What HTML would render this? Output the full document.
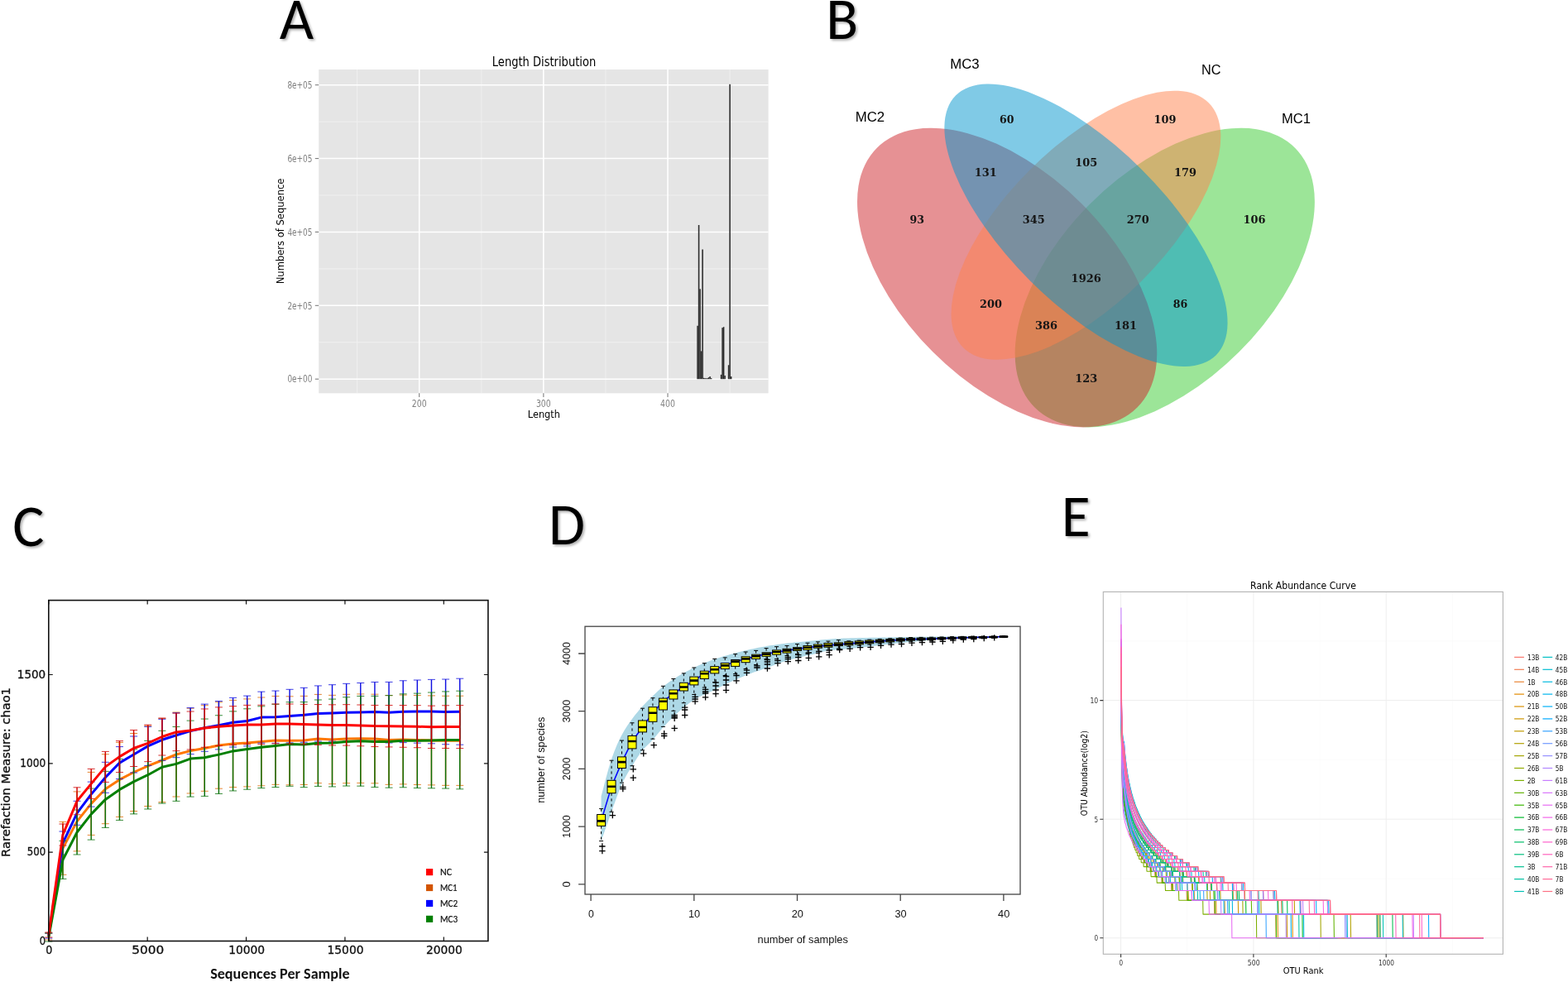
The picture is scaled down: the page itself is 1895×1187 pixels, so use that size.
<!DOCTYPE html><html><head><meta charset="utf-8"><title>Figure</title><style>html,body{margin:0;padding:0;background:#fff;width:1895px;height:1187px;overflow:hidden}svg{display:block}</style></head><body><svg width="1895" height="1187" viewBox="0 0 1895 1187"><defs><filter id="ds" x="-20%" y="-20%" width="150%" height="150%"><feGaussianBlur in="SourceAlpha" stdDeviation="1.4"/><feOffset dx="2.0" dy="2.4" result="o"/><feComponentTransfer><feFuncA type="linear" slope="0.32"/></feComponentTransfer><feMerge><feMergeNode/><feMergeNode in="SourceGraphic"/></feMerge></filter></defs><rect width="100%" height="100%" fill="#fff"/><text x="337.7" y="47" font-size="71.5" font-family="Carlito, 'Liberation Sans', sans-serif" textLength="41.37" lengthAdjust="spacingAndGlyphs" filter="url(#ds)">A</text>
<text x="998.2" y="46.8" font-size="71.5" font-family="Carlito, 'Liberation Sans', sans-serif" textLength="38.89" lengthAdjust="spacingAndGlyphs" filter="url(#ds)">B</text>
<text x="15.3" y="660" font-size="71.5" font-family="Carlito, 'Liberation Sans', sans-serif" textLength="38.12" lengthAdjust="spacingAndGlyphs" filter="url(#ds)">C</text>
<text x="663.1" y="658.3" font-size="71.5" font-family="Carlito, 'Liberation Sans', sans-serif" textLength="43.99" lengthAdjust="spacingAndGlyphs" filter="url(#ds)">D</text>
<text x="1282.8" y="648" font-size="71.5" font-family="Carlito, 'Liberation Sans', sans-serif" textLength="34.91" lengthAdjust="spacingAndGlyphs" filter="url(#ds)">E</text>
<rect x="385.2" y="84" width="543.4" height="391.3" fill="#E5E5E5"/>
<line x1="431.62" y1="84" x2="431.62" y2="475.3" stroke="#F2F2F2" stroke-width="0.8"/>
<line x1="581.77" y1="84" x2="581.77" y2="475.3" stroke="#F2F2F2" stroke-width="0.8"/>
<line x1="731.92" y1="84" x2="731.92" y2="475.3" stroke="#F2F2F2" stroke-width="0.8"/>
<line x1="882.08" y1="84" x2="882.08" y2="475.3" stroke="#F2F2F2" stroke-width="0.8"/>
<line x1="385.2" y1="413.76" x2="928.6" y2="413.76" stroke="#F2F2F2" stroke-width="0.8"/>
<line x1="385.2" y1="324.89" x2="928.6" y2="324.89" stroke="#F2F2F2" stroke-width="0.8"/>
<line x1="385.2" y1="236.01" x2="928.6" y2="236.01" stroke="#F2F2F2" stroke-width="0.8"/>
<line x1="385.2" y1="147.14" x2="928.6" y2="147.14" stroke="#F2F2F2" stroke-width="0.8"/>
<line x1="506.7" y1="84" x2="506.7" y2="475.3" stroke="#FFFFFF" stroke-width="1.6"/>
<line x1="656.85" y1="84" x2="656.85" y2="475.3" stroke="#FFFFFF" stroke-width="1.6"/>
<line x1="807" y1="84" x2="807" y2="475.3" stroke="#FFFFFF" stroke-width="1.6"/>
<line x1="385.2" y1="458.2" x2="928.6" y2="458.2" stroke="#FFFFFF" stroke-width="1.6"/>
<line x1="385.2" y1="369.32" x2="928.6" y2="369.32" stroke="#FFFFFF" stroke-width="1.6"/>
<line x1="385.2" y1="280.45" x2="928.6" y2="280.45" stroke="#FFFFFF" stroke-width="1.6"/>
<line x1="385.2" y1="191.57" x2="928.6" y2="191.57" stroke="#FFFFFF" stroke-width="1.6"/>
<line x1="385.2" y1="102.7" x2="928.6" y2="102.7" stroke="#FFFFFF" stroke-width="1.6"/>
<rect x="842.29" y="393.77" width="1.55" height="64.43" fill="#2A2A2A"/>
<rect x="843.79" y="272.01" width="1.55" height="186.19" fill="#2A2A2A"/>
<rect x="845.29" y="349.33" width="1.55" height="108.87" fill="#2A2A2A"/>
<rect x="846.79" y="424.43" width="1.55" height="33.77" fill="#2A2A2A"/>
<rect x="848.29" y="301.51" width="1.55" height="156.69" fill="#2A2A2A"/>
<rect x="849.79" y="456.87" width="1.55" height="1.33" fill="#2A2A2A"/>
<rect x="851.29" y="457.09" width="1.55" height="1.11" fill="#2A2A2A"/>
<rect x="852.8" y="457.31" width="1.55" height="0.89" fill="#2A2A2A"/>
<rect x="854.3" y="457.09" width="1.55" height="1.11" fill="#2A2A2A"/>
<rect x="855.8" y="456.2" width="1.55" height="2" fill="#2A2A2A"/>
<rect x="857.3" y="455.09" width="1.55" height="3.11" fill="#2A2A2A"/>
<rect x="858.8" y="457.09" width="1.55" height="1.11" fill="#2A2A2A"/>
<rect x="870.81" y="452.87" width="1.55" height="5.33" fill="#2A2A2A"/>
<rect x="872.32" y="396.12" width="1.55" height="62.08" fill="#2A2A2A"/>
<rect x="873.82" y="395.19" width="1.55" height="63.01" fill="#2A2A2A"/>
<rect x="875.32" y="453.98" width="1.55" height="4.22" fill="#2A2A2A"/>
<rect x="879.82" y="441.31" width="1.55" height="16.89" fill="#2A2A2A"/>
<rect x="881.32" y="101.81" width="1.55" height="356.39" fill="#2A2A2A"/>
<rect x="882.83" y="455.09" width="1.55" height="3.11" fill="#2A2A2A"/>
<line x1="380.8" y1="458.2" x2="385.2" y2="458.2" stroke="#7F7F7F" stroke-width="1.1"/>
<line x1="380.8" y1="369.32" x2="385.2" y2="369.32" stroke="#7F7F7F" stroke-width="1.1"/>
<line x1="380.8" y1="280.45" x2="385.2" y2="280.45" stroke="#7F7F7F" stroke-width="1.1"/>
<line x1="380.8" y1="191.57" x2="385.2" y2="191.57" stroke="#7F7F7F" stroke-width="1.1"/>
<line x1="380.8" y1="102.7" x2="385.2" y2="102.7" stroke="#7F7F7F" stroke-width="1.1"/>
<line x1="506.7" y1="475.3" x2="506.7" y2="479.9" stroke="#7F7F7F" stroke-width="1.1"/>
<line x1="656.85" y1="475.3" x2="656.85" y2="479.9" stroke="#7F7F7F" stroke-width="1.1"/>
<line x1="807" y1="475.3" x2="807" y2="479.9" stroke="#7F7F7F" stroke-width="1.1"/>
<text x="377.4" y="462.4" font-size="11.6" font-family="'DejaVu Sans', 'Liberation Sans', sans-serif" text-anchor="end" fill="#7F7F7F" textLength="30" lengthAdjust="spacingAndGlyphs">0e+00</text>
<text x="377.4" y="373.52" font-size="11.6" font-family="'DejaVu Sans', 'Liberation Sans', sans-serif" text-anchor="end" fill="#7F7F7F" textLength="30" lengthAdjust="spacingAndGlyphs">2e+05</text>
<text x="377.4" y="284.65" font-size="11.6" font-family="'DejaVu Sans', 'Liberation Sans', sans-serif" text-anchor="end" fill="#7F7F7F" textLength="30" lengthAdjust="spacingAndGlyphs">4e+05</text>
<text x="377.4" y="195.77" font-size="11.6" font-family="'DejaVu Sans', 'Liberation Sans', sans-serif" text-anchor="end" fill="#7F7F7F" textLength="30" lengthAdjust="spacingAndGlyphs">6e+05</text>
<text x="377.4" y="106.9" font-size="11.6" font-family="'DejaVu Sans', 'Liberation Sans', sans-serif" text-anchor="end" fill="#7F7F7F" textLength="30" lengthAdjust="spacingAndGlyphs">8e+05</text>
<text x="506.7" y="491.8" font-size="11.6" font-family="'DejaVu Sans', 'Liberation Sans', sans-serif" text-anchor="middle" fill="#7F7F7F" textLength="17.8" lengthAdjust="spacingAndGlyphs">200</text>
<text x="656.85" y="491.8" font-size="11.6" font-family="'DejaVu Sans', 'Liberation Sans', sans-serif" text-anchor="middle" fill="#7F7F7F" textLength="17.8" lengthAdjust="spacingAndGlyphs">300</text>
<text x="807" y="491.8" font-size="11.6" font-family="'DejaVu Sans', 'Liberation Sans', sans-serif" text-anchor="middle" fill="#7F7F7F" textLength="17.8" lengthAdjust="spacingAndGlyphs">400</text>
<text x="657.5" y="80.1" font-size="16" font-family="'DejaVu Sans', 'Liberation Sans', sans-serif" text-anchor="middle" textLength="125.4" lengthAdjust="spacingAndGlyphs">Length Distribution</text>
<text x="657.4" y="504.8" font-size="13" font-family="'DejaVu Sans', 'Liberation Sans', sans-serif" text-anchor="middle" textLength="39.1" lengthAdjust="spacingAndGlyphs">Length</text>
<text x="342.8" y="279.4" font-size="13" font-family="'DejaVu Sans', 'Liberation Sans', sans-serif" text-anchor="middle" textLength="127.7" lengthAdjust="spacingAndGlyphs" transform="rotate(-90 342.8 279.4)">Numbers of Sequence</text>
<g transform="matrix(635.4 0 0 -634.2 994.75 633.7)">
<ellipse cx="0" cy="0" rx="0.35" ry="0.2" transform="translate(0.65 0.47) rotate(45)" fill="#39CB31" fill-opacity="0.5"/>
<ellipse cx="0" cy="0" rx="0.35" ry="0.2" transform="translate(0.35 0.47) rotate(135)" fill="#CD2329" fill-opacity="0.5"/>
<ellipse cx="0" cy="0" rx="0.33" ry="0.15" transform="translate(0.5 0.57) rotate(45)" fill="#FF814B" fill-opacity="0.5"/>
<ellipse cx="0" cy="0" rx="0.35" ry="0.15" transform="translate(0.5 0.57) rotate(135)" fill="#0195CD" fill-opacity="0.5"/>
</g>
<text x="1051.4" y="147.2" font-size="17" font-family="'Liberation Sans', sans-serif" text-anchor="middle" textLength="35.4" lengthAdjust="spacingAndGlyphs">MC2</text>
<text x="1165.9" y="83.2" font-size="17" font-family="'Liberation Sans', sans-serif" text-anchor="middle" textLength="35.4" lengthAdjust="spacingAndGlyphs">MC3</text>
<text x="1463.7" y="89.9" font-size="17" font-family="'Liberation Sans', sans-serif" text-anchor="middle" textLength="23.5" lengthAdjust="spacingAndGlyphs">NC</text>
<text x="1566.5" y="148.8" font-size="17" font-family="'Liberation Sans', sans-serif" text-anchor="middle" textLength="35" lengthAdjust="spacingAndGlyphs">MC1</text>
<text x="1216.7" y="148.7" font-size="12.9" font-family="'DejaVu Serif', 'Liberation Serif', serif" text-anchor="middle" fill="#151515" font-weight="bold" textLength="17.5" lengthAdjust="spacingAndGlyphs">60</text>
<text x="1407.9" y="148.7" font-size="12.9" font-family="'DejaVu Serif', 'Liberation Serif', serif" text-anchor="middle" fill="#151515" font-weight="bold" textLength="27" lengthAdjust="spacingAndGlyphs">109</text>
<text x="1191.3" y="212.6" font-size="12.9" font-family="'DejaVu Serif', 'Liberation Serif', serif" text-anchor="middle" fill="#151515" font-weight="bold" textLength="27" lengthAdjust="spacingAndGlyphs">131</text>
<text x="1312.7" y="200.5" font-size="12.9" font-family="'DejaVu Serif', 'Liberation Serif', serif" text-anchor="middle" fill="#151515" font-weight="bold" textLength="27" lengthAdjust="spacingAndGlyphs">105</text>
<text x="1432.4" y="212.6" font-size="12.9" font-family="'DejaVu Serif', 'Liberation Serif', serif" text-anchor="middle" fill="#151515" font-weight="bold" textLength="27" lengthAdjust="spacingAndGlyphs">179</text>
<text x="1108.2" y="270.2" font-size="12.9" font-family="'DejaVu Serif', 'Liberation Serif', serif" text-anchor="middle" fill="#151515" font-weight="bold" textLength="17.5" lengthAdjust="spacingAndGlyphs">93</text>
<text x="1249.3" y="270.2" font-size="12.9" font-family="'DejaVu Serif', 'Liberation Serif', serif" text-anchor="middle" fill="#151515" font-weight="bold" textLength="27" lengthAdjust="spacingAndGlyphs">345</text>
<text x="1375.3" y="270.2" font-size="12.9" font-family="'DejaVu Serif', 'Liberation Serif', serif" text-anchor="middle" fill="#151515" font-weight="bold" textLength="27" lengthAdjust="spacingAndGlyphs">270</text>
<text x="1516" y="270.2" font-size="12.9" font-family="'DejaVu Serif', 'Liberation Serif', serif" text-anchor="middle" fill="#151515" font-weight="bold" textLength="27" lengthAdjust="spacingAndGlyphs">106</text>
<text x="1312.7" y="340.8" font-size="12.9" font-family="'DejaVu Serif', 'Liberation Serif', serif" text-anchor="middle" fill="#151515" font-weight="bold" textLength="36.2" lengthAdjust="spacingAndGlyphs">1926</text>
<text x="1197.5" y="372" font-size="12.9" font-family="'DejaVu Serif', 'Liberation Serif', serif" text-anchor="middle" fill="#151515" font-weight="bold" textLength="27" lengthAdjust="spacingAndGlyphs">200</text>
<text x="1426.6" y="372" font-size="12.9" font-family="'DejaVu Serif', 'Liberation Serif', serif" text-anchor="middle" fill="#151515" font-weight="bold" textLength="17.5" lengthAdjust="spacingAndGlyphs">86</text>
<text x="1264.5" y="397.9" font-size="12.9" font-family="'DejaVu Serif', 'Liberation Serif', serif" text-anchor="middle" fill="#151515" font-weight="bold" textLength="27" lengthAdjust="spacingAndGlyphs">386</text>
<text x="1360.5" y="397.9" font-size="12.9" font-family="'DejaVu Serif', 'Liberation Serif', serif" text-anchor="middle" fill="#151515" font-weight="bold" textLength="27" lengthAdjust="spacingAndGlyphs">181</text>
<text x="1312.7" y="461.8" font-size="12.9" font-family="'DejaVu Serif', 'Liberation Serif', serif" text-anchor="middle" fill="#151515" font-weight="bold" textLength="27" lengthAdjust="spacingAndGlyphs">123</text>
<polyline points="58.8,1132 75.94,1025.3 93.07,992.9 110.2,971.4 127.34,953.7 144.48,942.4 161.61,933.5 178.75,925.9 195.88,919 213.01,912 230.15,907.6 247.29,904.5 264.42,901 281.56,899 298.69,897.9 315.83,896.4 332.96,894.9 350.1,895.3 367.23,894.9 384.37,893 401.5,894 418.64,893 435.77,892.7 452.91,893 470.04,894.5 487.18,894 504.31,894.5 521.45,894.9 538.58,895.3 555.72,895.3" fill="none" stroke="#FF7700" stroke-width="3" stroke-linejoin="round"/>
<path d="M58.8 1128V1136M75.94 993.3V1057.3M93.07 956.9V1028.9M110.2 933.4V1009.4M127.34 911.7V995.7M144.48 897.4V987.4M161.61 886.5V980.5M178.75 877.3V974.5M195.88 868.4V969.6M213.01 861V963M230.15 856.2V959M247.29 852.7V956.3M264.42 848.8V953.2M281.56 846.4V951.6M298.69 844.9V950.9M315.83 843V949.8M332.96 841.45V948.35M350.1 841.8V948.8M367.23 841.35V948.45M384.37 839.4V946.6M401.5 840.35V947.65M418.64 839.3V946.7M435.77 838.95V946.45M452.91 839.2V946.8M470.04 840.65V948.35M487.18 840.1V947.9M504.31 840.55V948.45M521.45 840.9V948.9M538.58 841.25V949.35M555.72 841.2V949.4" stroke="#E06A00" stroke-width="1.45" fill="none"/>
<path d="M54.3 1128h9M54.3 1136h9M71.44 993.3h9M71.44 1057.3h9M88.57 956.9h9M88.57 1028.9h9M105.7 933.4h9M105.7 1009.4h9M122.84 911.7h9M122.84 995.7h9M139.98 897.4h9M139.98 987.4h9M157.11 886.5h9M157.11 980.5h9M174.25 877.3h9M174.25 974.5h9M191.38 868.4h9M191.38 969.6h9M208.51 861h9M208.51 963h9M225.65 856.2h9M225.65 959h9M242.79 852.7h9M242.79 956.3h9M259.92 848.8h9M259.92 953.2h9M277.06 846.4h9M277.06 951.6h9M294.19 844.9h9M294.19 950.9h9M311.33 843h9M311.33 949.8h9M328.46 841.45h9M328.46 948.35h9M345.6 841.8h9M345.6 948.8h9M362.73 841.35h9M362.73 948.45h9M379.87 839.4h9M379.87 946.6h9M397 840.35h9M397 947.65h9M414.14 839.3h9M414.14 946.7h9M431.27 838.95h9M431.27 946.45h9M448.41 839.2h9M448.41 946.8h9M465.54 840.65h9M465.54 948.35h9M482.68 840.1h9M482.68 947.9h9M499.81 840.55h9M499.81 948.45h9M516.95 840.9h9M516.95 948.9h9M534.08 841.25h9M534.08 949.35h9M551.22 841.2h9M551.22 949.4h9" stroke="#E06A00" stroke-width="1.0" stroke-opacity="0.8" fill="none"/>
<polyline points="58.8,1131 75.94,1019 93.07,982.8 110.2,960.1 127.34,939.8 144.48,922.1 161.61,912 178.75,901.9 195.88,894.3 213.01,888.7 230.15,883.6 247.29,879.7 264.42,876.7 281.56,873.2 298.69,871.5 315.83,867.1 332.96,866.7 350.1,865.6 367.23,864.3 384.37,862.5 401.5,861.9 418.64,861.2 435.77,861 452.91,860.6 470.04,861.2 487.18,860.2 504.31,860.1 521.45,860.1 538.58,860.4 555.72,860.2" fill="none" stroke="#0000FF" stroke-width="3" stroke-linejoin="round"/>
<path d="M58.8 1128V1134M75.94 1005V1033M93.07 968.3V997.3M110.2 945.1V975.1M127.34 921.3V958.3M144.48 902.6V941.6M161.61 890V934M178.75 878.4V925.4M195.88 869.3V919.3M213.01 861.7V915.7M230.15 855.6V911.6M247.29 851.1V908.3M264.42 847.5V905.9M281.56 843.4V903M298.69 841.1V901.9M315.83 836.1V898.1M332.96 835.06V898.34M350.1 833.31V897.89M367.23 831.37V897.23M384.37 828.93V896.07M401.5 827.69V896.11M418.64 826.34V896.06M435.77 825.5V896.5M452.91 824.46V896.74M470.04 824.41V897.99M487.18 822.77V897.63M504.31 822.03V898.17M521.45 821.39V898.81M538.58 821.04V899.76M555.72 820.2V900.2" stroke="#1010E0" stroke-width="1.45" fill="none"/>
<path d="M54.3 1128h9M54.3 1134h9M71.44 1005h9M71.44 1033h9M88.57 968.3h9M88.57 997.3h9M105.7 945.1h9M105.7 975.1h9M122.84 921.3h9M122.84 958.3h9M139.98 902.6h9M139.98 941.6h9M157.11 890h9M157.11 934h9M174.25 878.4h9M174.25 925.4h9M191.38 869.3h9M191.38 919.3h9M208.51 861.7h9M208.51 915.7h9M225.65 855.6h9M225.65 911.6h9M242.79 851.1h9M242.79 908.3h9M259.92 847.5h9M259.92 905.9h9M277.06 843.4h9M277.06 903h9M294.19 841.1h9M294.19 901.9h9M311.33 836.1h9M311.33 898.1h9M328.46 835.06h9M328.46 898.34h9M345.6 833.31h9M345.6 897.89h9M362.73 831.37h9M362.73 897.23h9M379.87 828.93h9M379.87 896.07h9M397 827.69h9M397 896.11h9M414.14 826.34h9M414.14 896.06h9M431.27 825.5h9M431.27 896.5h9M448.41 824.46h9M448.41 896.74h9M465.54 824.41h9M465.54 897.99h9M482.68 822.77h9M482.68 897.63h9M499.81 822.03h9M499.81 898.17h9M516.95 821.39h9M516.95 898.81h9M534.08 821.04h9M534.08 899.76h9M551.22 820.2h9M551.22 900.2h9" stroke="#1010E0" stroke-width="1.0" stroke-opacity="0.8" fill="none"/>
<polyline points="58.8,1133 75.94,1039.4 93.07,1006 110.2,984.1 127.34,966.4 144.48,954.4 161.61,944.9 178.75,936.7 195.88,927.2 213.01,923.4 230.15,917.1 247.29,915.7 264.42,912.1 281.56,907.9 298.69,905.5 315.83,903.2 332.96,901.4 350.1,899.5 367.23,900.1 384.37,898.2 401.5,898 418.64,896.4 435.77,895.8 452.91,896.4 470.04,896.4 487.18,895.3 504.31,895.3 521.45,894.9 538.58,894.5 555.72,894.5" fill="none" stroke="#008000" stroke-width="3" stroke-linejoin="round"/>
<path d="M58.8 1128V1138M75.94 1016.4V1062.4M93.07 979V1033M110.2 953.1V1015.1M127.34 932.4V1000.4M144.48 917.4V991.4M161.61 905.9V983.9M178.75 895.4V978M195.88 883.3V971.1M213.01 878.45V968.35M230.15 871.1V963.1M247.29 869.02V962.38M264.42 864.74V959.46M281.56 859.86V955.94M298.69 856.78V954.22M315.83 853.8V952.6M332.96 851.29V951.51M350.1 848.69V950.31M367.23 848.58V951.62M384.37 845.97V950.43M401.5 845.06V950.94M418.64 842.76V950.04M435.77 841.45V950.15M452.91 841.34V951.46M470.04 840.64V952.16M487.18 838.83V951.77M504.31 838.12V952.48M521.45 837.01V952.79M538.58 835.91V953.09M555.72 835.2V953.8" stroke="#0A700A" stroke-width="1.45" fill="none"/>
<path d="M54.3 1128h9M54.3 1138h9M71.44 1016.4h9M71.44 1062.4h9M88.57 979h9M88.57 1033h9M105.7 953.1h9M105.7 1015.1h9M122.84 932.4h9M122.84 1000.4h9M139.98 917.4h9M139.98 991.4h9M157.11 905.9h9M157.11 983.9h9M174.25 895.4h9M174.25 978h9M191.38 883.3h9M191.38 971.1h9M208.51 878.45h9M208.51 968.35h9M225.65 871.1h9M225.65 963.1h9M242.79 869.02h9M242.79 962.38h9M259.92 864.74h9M259.92 959.46h9M277.06 859.86h9M277.06 955.94h9M294.19 856.78h9M294.19 954.22h9M311.33 853.8h9M311.33 952.6h9M328.46 851.29h9M328.46 951.51h9M345.6 848.69h9M345.6 950.31h9M362.73 848.58h9M362.73 951.62h9M379.87 845.97h9M379.87 950.43h9M397 845.06h9M397 950.94h9M414.14 842.76h9M414.14 950.04h9M431.27 841.45h9M431.27 950.15h9M448.41 841.34h9M448.41 951.46h9M465.54 840.64h9M465.54 952.16h9M482.68 838.83h9M482.68 951.77h9M499.81 838.12h9M499.81 952.48h9M516.95 837.01h9M516.95 952.79h9M534.08 835.91h9M534.08 953.09h9M551.22 835.2h9M551.22 953.8h9" stroke="#0A700A" stroke-width="1.0" stroke-opacity="0.8" fill="none"/>
<polyline points="58.8,1130 75.94,1009 93.07,968.3 110.2,947.4 127.34,926.9 144.48,914.6 161.61,904.5 178.75,898.4 195.88,890.5 213.01,884.9 230.15,883 247.29,880.1 264.42,878.2 281.56,877.1 298.69,876 315.83,876 332.96,874.9 350.1,875.1 367.23,875.6 384.37,876 401.5,876.4 418.64,876.4 435.77,876.9 452.91,877.5 470.04,877.7 487.18,877.9 504.31,878.2 521.45,878.8 538.58,878.6 555.72,878.6" fill="none" stroke="#FF0000" stroke-width="3" stroke-linejoin="round"/>
<path d="M58.8 1127V1133M75.94 996V1022M93.07 951.8V984.8M110.2 929.4V965.4M127.34 908.4V945.4M144.48 895.6V933.6M161.61 882.5V926.5M178.75 876.15V920.65M195.88 868V913M213.01 862.15V907.65M230.15 860V906M247.29 856.94V903.26M264.42 854.88V901.52M281.56 853.63V900.57M298.69 852.37V899.63M315.83 852.21V899.79M332.96 850.95V898.85M350.1 850.99V899.21M367.23 851.34V899.86M384.37 851.58V900.42M401.5 851.82V900.98M418.64 851.66V901.14M435.77 852.01V901.79M452.91 852.45V902.55M470.04 852.49V902.91M487.18 852.53V903.27M504.31 852.67V903.73M521.45 853.12V904.48M538.58 852.76V904.44M555.72 852.6V904.6" stroke="#D00000" stroke-width="1.45" fill="none"/>
<path d="M54.3 1127h9M54.3 1133h9M71.44 996h9M71.44 1022h9M88.57 951.8h9M88.57 984.8h9M105.7 929.4h9M105.7 965.4h9M122.84 908.4h9M122.84 945.4h9M139.98 895.6h9M139.98 933.6h9M157.11 882.5h9M157.11 926.5h9M174.25 876.15h9M174.25 920.65h9M191.38 868h9M191.38 913h9M208.51 862.15h9M208.51 907.65h9M225.65 860h9M225.65 906h9M242.79 856.94h9M242.79 903.26h9M259.92 854.88h9M259.92 901.52h9M277.06 853.63h9M277.06 900.57h9M294.19 852.37h9M294.19 899.63h9M311.33 852.21h9M311.33 899.79h9M328.46 850.95h9M328.46 898.85h9M345.6 850.99h9M345.6 899.21h9M362.73 851.34h9M362.73 899.86h9M379.87 851.58h9M379.87 900.42h9M397 851.82h9M397 900.98h9M414.14 851.66h9M414.14 901.14h9M431.27 852.01h9M431.27 901.79h9M448.41 852.45h9M448.41 902.55h9M465.54 852.49h9M465.54 902.91h9M482.68 852.53h9M482.68 903.27h9M499.81 852.67h9M499.81 903.73h9M516.95 853.12h9M516.95 904.48h9M534.08 852.76h9M534.08 904.44h9M551.22 852.6h9M551.22 904.6h9" stroke="#D00000" stroke-width="1.0" stroke-opacity="0.8" fill="none"/>
<rect x="58.8" y="725.6" width="531.1" height="411.9" fill="none" stroke="#111" stroke-width="1.6"/>
<path d="M58.8 1137.5h5M589.9 1137.5h-5M58.8 1030.16h5M589.9 1030.16h-5M58.8 922.83h5M589.9 922.83h-5M58.8 815.5h5M589.9 815.5h-5M58.8 1137.5v-5M58.8 725.6v5M178.18 1137.5v-5M178.18 725.6v5M297.55 1137.5v-5M297.55 725.6v5M416.93 1137.5v-5M416.93 725.6v5M536.3 1137.5v-5M536.3 725.6v5" stroke="#111" stroke-width="1.2" fill="none"/>
<text x="55.2" y="1141.7" font-size="14.2" font-family="'DejaVu Sans', 'Liberation Sans', sans-serif" text-anchor="end" fill="#111" textLength="7.4" lengthAdjust="spacingAndGlyphs" stroke="#111" stroke-width="0.35">0</text>
<text x="55.2" y="1034.37" font-size="14.2" font-family="'DejaVu Sans', 'Liberation Sans', sans-serif" text-anchor="end" fill="#111" textLength="22.5" lengthAdjust="spacingAndGlyphs" stroke="#111" stroke-width="0.35">500</text>
<text x="55.2" y="927.03" font-size="14.2" font-family="'DejaVu Sans', 'Liberation Sans', sans-serif" text-anchor="end" fill="#111" textLength="31" lengthAdjust="spacingAndGlyphs" stroke="#111" stroke-width="0.35">1000</text>
<text x="55.2" y="819.7" font-size="14.2" font-family="'DejaVu Sans', 'Liberation Sans', sans-serif" text-anchor="end" fill="#111" textLength="34.4" lengthAdjust="spacingAndGlyphs" stroke="#111" stroke-width="0.35">1500</text>
<text x="59.4" y="1153.2" font-size="14.2" font-family="'DejaVu Sans', 'Liberation Sans', sans-serif" text-anchor="middle" fill="#111" textLength="8.1" lengthAdjust="spacingAndGlyphs" stroke="#111" stroke-width="0.35">0</text>
<text x="178.78" y="1153.2" font-size="14.2" font-family="'DejaVu Sans', 'Liberation Sans', sans-serif" text-anchor="middle" fill="#111" textLength="39" lengthAdjust="spacingAndGlyphs" stroke="#111" stroke-width="0.35">5000</text>
<text x="298.15" y="1153.2" font-size="14.2" font-family="'DejaVu Sans', 'Liberation Sans', sans-serif" text-anchor="middle" fill="#111" textLength="44" lengthAdjust="spacingAndGlyphs" stroke="#111" stroke-width="0.35">10000</text>
<text x="417.53" y="1153.2" font-size="14.2" font-family="'DejaVu Sans', 'Liberation Sans', sans-serif" text-anchor="middle" fill="#111" textLength="44" lengthAdjust="spacingAndGlyphs" stroke="#111" stroke-width="0.35">15000</text>
<text x="536.9" y="1153.2" font-size="14.2" font-family="'DejaVu Sans', 'Liberation Sans', sans-serif" text-anchor="middle" fill="#111" textLength="43.9" lengthAdjust="spacingAndGlyphs" stroke="#111" stroke-width="0.35">20000</text>
<text x="338.4" y="1183.2" font-size="17.2" font-family="Carlito, 'Liberation Sans', sans-serif" text-anchor="middle" fill="#111" font-weight="bold" textLength="168.4" lengthAdjust="spacingAndGlyphs">Sequences Per Sample</text>
<text x="12.2" y="933.5" font-size="14.2" font-family="'DejaVu Sans', 'Liberation Sans', sans-serif" text-anchor="middle" fill="#111" textLength="204.8" lengthAdjust="spacingAndGlyphs" transform="rotate(-90 12.2 933.5)" stroke="#111" stroke-width="0.35">Rarefaction Measure: chao1</text>
<rect x="515" y="1050.1" width="8.2" height="8.1" fill="#FF0000"/>
<text x="532" y="1057.8" font-size="12" font-family="Carlito, 'Liberation Sans', sans-serif" fill="#111" textLength="14.1" lengthAdjust="spacingAndGlyphs" stroke="#111" stroke-width="0.2">NC</text>
<rect x="515" y="1069" width="8.2" height="8.1" fill="#D35400"/>
<text x="532" y="1076.7" font-size="12" font-family="Carlito, 'Liberation Sans', sans-serif" fill="#111" textLength="20.5" lengthAdjust="spacingAndGlyphs" stroke="#111" stroke-width="0.2">MC1</text>
<rect x="515" y="1087.9" width="8.2" height="8.1" fill="#0000FF"/>
<text x="532" y="1095.6" font-size="12" font-family="Carlito, 'Liberation Sans', sans-serif" fill="#111" textLength="21.2" lengthAdjust="spacingAndGlyphs" stroke="#111" stroke-width="0.2">MC2</text>
<rect x="515" y="1106.8" width="8.2" height="8.1" fill="#007F00"/>
<text x="532" y="1114.5" font-size="12" font-family="Carlito, 'Liberation Sans', sans-serif" fill="#111" textLength="21.2" lengthAdjust="spacingAndGlyphs" stroke="#111" stroke-width="0.2">MC3</text>
<polygon points="726.57,962.4 729.69,950.75 732.81,938.81 735.92,927.44 739.04,917.5 742.16,908.94 745.27,901.18 748.39,894.24 751.51,888.13 754.63,882.73 757.75,877.84 760.86,873.3 763.98,868.98 767.1,864.87 770.22,861 773.33,857.33 776.45,853.81 779.57,850.45 782.69,847.25 785.8,844.16 788.92,841.14 792.04,838.14 795.15,835.21 798.27,832.4 801.39,829.8 804.51,827.39 807.62,825.13 810.74,822.98 813.86,820.92 816.98,818.94 820.1,817.04 823.21,815.23 826.33,813.5 829.45,811.82 832.57,810.17 835.68,808.56 838.8,806.99 841.92,805.48 845.04,804.03 848.15,802.65 851.27,801.35 854.39,800.13 857.5,798.95 860.62,797.83 863.74,796.76 866.86,795.73 869.98,794.73 873.09,793.76 876.21,792.82 879.33,791.91 882.45,791.02 885.56,790.15 888.68,789.32 891.8,788.51 894.91,787.72 898.03,786.96 901.15,786.23 904.27,785.52 907.38,784.82 910.5,784.14 913.62,783.48 916.74,782.84 919.86,782.23 922.97,781.65 926.09,781.11 929.21,780.6 932.33,780.11 935.44,779.64 938.56,779.19 941.68,778.77 944.8,778.36 947.91,777.96 951.03,777.59 954.15,777.23 957.27,776.89 960.38,776.57 963.5,776.26 966.62,775.96 969.74,775.67 972.85,775.38 975.97,775.09 979.09,774.79 982.21,774.5 985.32,774.2 988.44,773.9 991.56,773.62 994.67,773.34 997.79,773.08 1000.91,772.83 1004.03,772.59 1007.14,772.35 1010.26,772.12 1013.38,771.91 1016.5,771.74 1019.62,771.6 1022.73,771.49 1025.85,771.39 1028.97,771.3 1032.09,771.22 1035.2,771.14 1038.32,771.07 1041.44,771 1044.56,770.94 1047.67,770.88 1050.79,770.83 1053.91,770.77 1057.03,770.71 1060.14,770.66 1063.26,770.6 1066.38,770.54 1069.5,770.48 1072.61,770.42 1075.73,770.36 1078.85,770.31 1081.97,770.25 1085.08,770.19 1088.2,770.14 1091.32,770.08 1094.43,770.03 1097.55,769.98 1100.67,769.93 1103.79,769.88 1106.9,769.83 1110.02,769.79 1113.14,769.75 1116.26,769.71 1119.38,769.67 1122.49,769.64 1125.61,769.61 1128.73,769.58 1131.85,769.56 1134.96,769.53 1138.08,769.51 1141.2,769.49 1144.32,769.47 1147.43,769.45 1150.55,769.43 1153.67,769.41 1156.79,769.39 1159.9,769.37 1163.02,769.35 1166.14,769.34 1169.26,769.32 1172.37,769.31 1175.49,769.29 1178.61,769.28 1181.72,769.26 1184.84,769.25 1187.96,769.23 1191.08,769.21 1194.2,769.2 1197.31,769.18 1200.43,769.17 1203.55,769.15 1206.66,769.14 1209.78,769.12 1212.9,769.1 1212.9,769.6 1209.78,769.69 1206.66,769.78 1203.55,769.87 1200.43,769.95 1197.31,770.04 1194.2,770.12 1191.08,770.2 1187.96,770.28 1184.84,770.36 1181.72,770.44 1178.61,770.53 1175.49,770.62 1172.37,770.71 1169.26,770.81 1166.14,770.92 1163.02,771.03 1159.9,771.15 1156.79,771.28 1153.67,771.41 1150.55,771.56 1147.43,771.74 1144.32,771.95 1141.2,772.19 1138.08,772.44 1134.96,772.72 1131.85,773.01 1128.73,773.31 1125.61,773.62 1122.49,773.92 1119.38,774.23 1116.26,774.53 1113.14,774.81 1110.02,775.1 1106.9,775.39 1103.79,775.68 1100.67,775.98 1097.55,776.28 1094.43,776.59 1091.32,776.89 1088.2,777.2 1085.08,777.52 1081.97,777.84 1078.85,778.17 1075.73,778.5 1072.61,778.84 1069.5,779.2 1066.38,779.56 1063.26,779.93 1060.14,780.31 1057.03,780.7 1053.91,781.08 1050.79,781.46 1047.67,781.83 1044.56,782.2 1041.44,782.56 1038.32,782.9 1035.2,783.23 1032.09,783.56 1028.97,783.87 1025.85,784.18 1022.73,784.49 1019.62,784.8 1016.5,785.08 1013.38,785.34 1010.26,785.58 1007.14,785.85 1004.03,786.15 1000.91,786.53 997.79,787.04 994.67,787.84 991.56,788.75 988.44,789.6 985.32,790.32 982.21,791.01 979.09,791.67 975.97,792.33 972.85,793.01 969.74,793.71 966.62,794.45 963.5,795.23 960.38,796.02 957.27,796.85 954.15,797.7 951.03,798.59 947.91,799.52 944.8,800.5 941.68,801.58 938.56,802.73 935.44,803.93 932.33,805.15 929.21,806.35 926.09,807.5 922.97,808.6 919.86,809.67 916.74,810.72 913.62,811.77 910.5,812.85 907.38,813.97 904.27,815.14 901.15,816.37 898.03,817.63 894.91,818.94 891.8,820.28 888.68,821.65 885.56,823.05 882.45,824.48 879.33,825.96 876.21,827.49 873.09,829.06 869.98,830.64 866.86,832.22 863.74,833.78 860.62,835.31 857.5,836.76 854.39,838.18 851.27,839.59 848.15,841.05 845.04,842.57 841.92,844.21 838.8,846 835.68,848.02 832.57,850.27 829.45,852.69 826.33,855.2 823.21,857.81 820.1,860.56 816.98,863.44 813.86,866.4 810.74,869.45 807.62,872.62 804.51,875.9 801.39,879.3 798.27,882.92 795.15,886.75 792.04,890.58 788.92,894.2 785.8,897.45 782.69,900.47 779.57,903.59 776.45,907.1 773.33,911.2 770.22,915.77 767.1,920.66 763.98,925.7 760.86,930.78 757.75,936.05 754.63,941.71 751.51,948 748.39,955.35 745.27,963.71 742.16,972.53 739.04,981.3 735.92,989.98 732.81,998.82 729.69,1007.73 726.57,1016.6" fill="#ADD8E6"/>
<polyline points="726.57,992.4 739.04,950.7 751.51,921.1 763.98,896 776.45,879 788.92,861.7 801.39,847.8 813.86,838.2 826.33,830.5 838.8,822.6 851.27,814.2 863.74,809.3 876.21,804.4 888.68,799.6 901.15,796.4 913.62,793.3 926.09,790.6 938.56,788 951.03,786.4 963.5,784.3 975.97,782.7 988.44,781.3 1000.91,780.1 1013.38,778.9 1025.85,777.9 1038.32,777 1050.79,776 1063.26,775.1 1075.73,774.3 1088.2,773.4 1100.67,772.8 1113.14,772.5 1125.61,772.2 1138.08,771.8 1150.55,771.3 1163.02,770.9 1175.49,770.5 1187.96,770.3 1200.43,770 1212.9,769.6" fill="none" stroke="#0000FF" stroke-width="1.5"/>
<path d="M726.57 977.6V984.5M726.57 998.4V1016.6M739.04 919.2V943.3M739.04 958.7V981.3M751.51 895.1V914.9M751.51 928.5V946.1M763.98 873.8V889.5M763.98 904.9V925.7M776.45 856.2V871M776.45 884.9V906.8M788.92 843.7V854.7M788.92 872.3V893.2M801.39 829.3V844.1M801.39 858V878.4M813.86 820.5V833.9M813.86 845V859.3M826.33 813.9V825.3M826.33 835V849.7M838.8 807V818.1M838.8 827.9V839.5M851.27 801.7V811.2M851.27 820.5V831M863.74 796.4V805.7M863.74 813.9V824.5M876.21 794.9V801.5M876.21 808.6V816.5M888.68 790.6V797.5M888.68 805.4V814.5M901.15 788V793.8M901.15 800.7V808.5M913.62 786.4V791.2M913.62 796.4V803.5M926.09 783.6V788.8M926.09 793.3V796.5M938.56 781.7V785.9M938.56 791.2V796.5M951.03 780.6V784.3M951.03 789.1V792.5M963.5 778.5V782.7M963.5 786.4V790.5M975.97 777.2V780.6M975.97 785.4V790.5M988.44 775.9V779M988.44 783.2V789.5M1000.91 775.1V777.4M1000.91 782.2V788.5M1013.38 773.7V776.9M1013.38 780.6V784M1025.85 774.84V775.72M1025.85 779.86V781.34M1038.32 774.08V774.94M1038.32 778.86V780.27M1050.79 773.21V774.06M1050.79 777.75V779.11M1063.26 772.45V773.27M1063.26 776.74V778.05M1075.73 771.79V772.59M1075.73 775.84V777.09M1088.2 771.02V771.81M1088.2 774.83V776.02M1100.67 770.56V771.33M1100.67 774.12V775.26M1113.14 770.4V771.15M1113.14 773.72V774.8M1125.61 770.24V770.97M1125.61 773.31V774.34M1138.08 769.97V770.69M1138.08 772.8V773.77M1150.55 769.61V770.31M1150.55 772.19V773.11M1163.02 769.35V770.02M1163.02 771.69V772.55M1175.49 769.09V769.74M1175.49 771.18V771.99M1187.96 769.02V769.66M1187.96 770.87V771.62M1200.43 768.86V769.48M1200.43 770.47V771.16M1212.9 768.6V769.2M1212.9 769.96V770.6" stroke="#000" stroke-width="1" stroke-dasharray="3.2 3.4" fill="none"/>
<path d="M724.07 977.6h5M724.07 1016.6h5M736.54 919.2h5M736.54 981.3h5M749.01 895.1h5M749.01 946.1h5M761.48 873.8h5M761.48 925.7h5M773.95 856.2h5M773.95 906.8h5M786.42 843.7h5M786.42 893.2h5M798.89 829.3h5M798.89 878.4h5M811.36 820.5h5M811.36 859.3h5M823.83 813.9h5M823.83 849.7h5M836.3 807h5M836.3 839.5h5M848.77 801.7h5M848.77 831h5M861.24 796.4h5M861.24 824.5h5M873.71 794.9h5M873.71 816.5h5M886.18 790.6h5M886.18 814.5h5M898.65 788h5M898.65 808.5h5M911.12 786.4h5M911.12 803.5h5M923.59 783.6h5M923.59 796.5h5M936.06 781.7h5M936.06 796.5h5M948.53 780.6h5M948.53 792.5h5M961 778.5h5M961 790.5h5M973.47 777.2h5M973.47 790.5h5M985.94 775.9h5M985.94 789.5h5M998.41 775.1h5M998.41 788.5h5M1010.88 773.7h5M1010.88 784h5M1023.35 774.84h5M1023.35 781.34h5M1035.82 774.08h5M1035.82 780.27h5M1048.29 773.21h5M1048.29 779.11h5M1060.76 772.45h5M1060.76 778.05h5M1073.23 771.79h5M1073.23 777.09h5M1085.7 771.02h5M1085.7 776.02h5M1098.17 770.56h5M1098.17 775.26h5M1110.64 770.4h5M1110.64 774.8h5M1123.11 770.24h5M1123.11 774.34h5M1135.58 769.97h5M1135.58 773.77h5M1148.05 769.61h5M1148.05 773.11h5M1160.52 769.35h5M1160.52 772.55h5M1172.99 769.09h5M1172.99 771.99h5M1185.46 769.02h5M1185.46 771.62h5M1197.93 768.86h5M1197.93 771.16h5M1210.4 768.6h5M1210.4 770.6h5" stroke="#000" stroke-width="1" fill="none"/>
<g fill="#FFFF00" stroke="#000" stroke-width="1"><rect x="721.57" y="984.5" width="10" height="13.9"/><rect x="734.04" y="943.3" width="10" height="15.4"/><rect x="746.51" y="914.9" width="10" height="13.6"/><rect x="758.98" y="889.5" width="10" height="15.4"/><rect x="771.45" y="871" width="10" height="13.9"/><rect x="783.92" y="854.7" width="10" height="17.6"/><rect x="796.39" y="844.1" width="10" height="13.9"/><rect x="808.86" y="833.9" width="10" height="11.1"/><rect x="821.33" y="825.3" width="10" height="9.7"/><rect x="833.8" y="818.1" width="10" height="9.8"/><rect x="846.27" y="811.2" width="10" height="9.3"/><rect x="858.74" y="805.7" width="10" height="8.2"/><rect x="871.21" y="801.5" width="10" height="7.1"/><rect x="883.68" y="797.5" width="10" height="7.9"/><rect x="896.15" y="793.8" width="10" height="6.9"/><rect x="908.62" y="791.2" width="10" height="5.2"/><rect x="921.09" y="788.8" width="10" height="4.5"/><rect x="933.56" y="785.9" width="10" height="5.3"/><rect x="946.03" y="784.3" width="10" height="4.8"/><rect x="958.5" y="782.7" width="10" height="3.7"/><rect x="970.97" y="780.6" width="10" height="4.8"/><rect x="983.44" y="779" width="10" height="4.2"/><rect x="995.91" y="777.4" width="10" height="4.8"/><rect x="1008.38" y="776.9" width="10" height="3.7"/><rect x="1020.85" y="775.72" width="10" height="4.14"/><rect x="1033.32" y="774.94" width="10" height="3.92"/><rect x="1045.79" y="774.06" width="10" height="3.69"/><rect x="1058.26" y="773.27" width="10" height="3.47"/><rect x="1070.73" y="772.59" width="10" height="3.24"/><rect x="1083.2" y="771.81" width="10" height="3.02"/><rect x="1095.67" y="771.33" width="10" height="2.79"/><rect x="1108.14" y="771.15" width="10" height="2.57"/><rect x="1120.61" y="770.97" width="10" height="2.34"/><rect x="1133.08" y="770.69" width="10" height="2.11"/><rect x="1145.55" y="770.31" width="10" height="1.89"/><rect x="1158.02" y="770.02" width="10" height="1.66"/><rect x="1170.49" y="769.74" width="10" height="1.44"/><rect x="1182.96" y="769.66" width="10" height="1.21"/><rect x="1195.43" y="769.48" width="10" height="0.99"/><rect x="1207.9" y="769.2" width="10" height="0.76"/></g>
<path d="M721.57 992.4h10M734.04 950.7h10M746.51 921.1h10M758.98 896h10M771.45 879h10M783.92 861.7h10M796.39 847.8h10M808.86 838.2h10M821.33 830.5h10M833.8 822.6h10M846.27 814.2h10M858.74 809.3h10M871.21 804.4h10M883.68 799.6h10M896.15 796.4h10M908.62 793.3h10M921.09 790.6h10M933.56 788h10M946.03 786.4h10M958.5 784.3h10M970.97 782.7h10M983.44 781.3h10M995.91 780.1h10M1008.38 778.9h10M1020.85 777.9h10M1033.32 777h10M1045.79 776h10M1058.26 775.1h10M1070.73 774.3h10M1083.2 773.4h10M1095.67 772.8h10M1108.14 772.5h10M1120.61 772.2h10M1133.08 771.8h10M1145.55 771.3h10M1158.02 770.9h10M1170.49 770.5h10M1182.96 770.3h10M1195.43 770h10M1207.9 769.6h10" stroke="#000" stroke-width="2.6" fill="none"/>
<path d="M724.17 1023h7.4M727.87 1019.3v7.4M724.17 1028.6h7.4M727.87 1024.9v7.4M736.64 985.6h7.4M740.34 981.9v7.4M749.11 951.3h7.4M752.81 947.6v7.4M749.11 953.5h7.4M752.81 949.8v7.4M761.58 929.8h7.4M765.28 926.1v7.4M761.58 940.2h7.4M765.28 936.5v7.4M774.05 910.9h7.4M777.75 907.2v7.4M786.52 900.7h7.4M790.22 897v7.4M798.99 886.8h7.4M802.69 883.1v7.4M798.99 889.5h7.4M802.69 885.8v7.4M811.46 864.5h7.4M815.16 860.8v7.4M811.46 866.5h7.4M815.16 862.8v7.4M811.46 868.2h7.4M815.16 864.5v7.4M811.46 880.3h7.4M815.16 876.6v7.4M823.93 855.2h7.4M827.63 851.5v7.4M823.93 858h7.4M827.63 854.3v7.4M823.93 864.5h7.4M827.63 860.8v7.4M836.4 842.3h7.4M840.1 838.6v7.4M836.4 845h7.4M840.1 841.3v7.4M836.4 847.8h7.4M840.1 844.1v7.4M848.87 833.4h7.4M852.57 829.7v7.4M848.87 836h7.4M852.57 832.3v7.4M848.87 838h7.4M852.57 834.3v7.4M848.87 842.9h7.4M852.57 839.2v7.4M861.34 825h7.4M865.04 821.3v7.4M861.34 829h7.4M865.04 825.3v7.4M861.34 834h7.4M865.04 830.3v7.4M861.34 838.7h7.4M865.04 835v7.4M873.81 817.5h7.4M877.51 813.8v7.4M873.81 822h7.4M877.51 818.3v7.4M873.81 828h7.4M877.51 824.3v7.4M873.81 834.4h7.4M877.51 830.7v7.4M886.28 816.5h7.4M889.98 812.8v7.4M886.28 822.8h7.4M889.98 819.1v7.4M898.75 810.2h7.4M902.45 806.5v7.4M898.75 813.3h7.4M902.45 809.6v7.4M911.22 804.9h7.4M914.92 801.2v7.4M911.22 807h7.4M914.92 803.3v7.4M923.69 797.5h7.4M927.39 793.8v7.4M923.69 800h7.4M927.39 796.3v7.4M923.69 803h7.4M927.39 799.3v7.4M923.69 808h7.4M927.39 804.3v7.4M936.16 798.5h7.4M939.86 794.8v7.4M936.16 801.7h7.4M939.86 798v7.4M948.63 794.3h7.4M952.33 790.6v7.4M948.63 796.5h7.4M952.33 792.8v7.4M948.63 799.6h7.4M952.33 795.9v7.4M961.1 791.7h7.4M964.8 788v7.4M961.1 794.5h7.4M964.8 790.8v7.4M961.1 798.5h7.4M964.8 794.8v7.4M973.57 789h7.4M977.27 785.3v7.4M973.57 795.4h7.4M977.27 791.7v7.4M986.04 787.5h7.4M989.74 783.8v7.4M986.04 793.8h7.4M989.74 790.1v7.4M998.51 786h7.4M1002.21 782.3v7.4M998.51 791.7h7.4M1002.21 788v7.4M1010.98 784.8h7.4M1014.68 781.1v7.4M1010.98 785.5h7.4M1014.68 781.8v7.4M1023.45 784.2h7.4M1027.15 780.5v7.4M1035.92 782.7h7.4M1039.62 779v7.4M1048.39 782.3h7.4M1052.09 778.6v7.4M1060.86 780.4h7.4M1064.56 776.7v7.4M1073.33 779.1h7.4M1077.03 775.4v7.4M1085.8 778.5h7.4M1089.5 774.8v7.4M1098.27 777.2h7.4M1101.97 773.5v7.4M1110.74 776.6h7.4M1114.44 772.9v7.4M1123.21 776h7.4M1126.91 772.3v7.4M1135.68 775.3h7.4M1139.38 771.6v7.4M1148.15 774.1h7.4M1151.85 770.4v7.4M1160.62 773h7.4M1164.32 769.3v7.4M1173.09 772.5h7.4M1176.79 768.8v7.4M1185.56 771.5h7.4M1189.26 767.8v7.4M1198.03 770.9h7.4M1201.73 767.2v7.4" stroke="#000" stroke-width="1.3" fill="none"/>
<rect x="707" y="757.2" width="526" height="323.8" fill="none" stroke="#444" stroke-width="1.3"/>
<path d="M699.1 1068.9H707M699.1 999.17H707M699.1 929.44H707M699.1 859.71H707M699.1 789.98H707M714.1 1081v7.9M838.8 1081v7.9M963.5 1081v7.9M1088.2 1081v7.9M1212.9 1081v7.9" stroke="#444" stroke-width="1.3" fill="none"/>
<text x="688.6" y="1068.9" font-size="13" font-family="'Liberation Sans', sans-serif" text-anchor="middle" fill="#111" textLength="7.2" lengthAdjust="spacingAndGlyphs" transform="rotate(-90 688.6 1068.9)">0</text>
<text x="688.6" y="999.17" font-size="13" font-family="'Liberation Sans', sans-serif" text-anchor="middle" fill="#111" textLength="27.7" lengthAdjust="spacingAndGlyphs" transform="rotate(-90 688.6 999.17)">1000</text>
<text x="688.6" y="929.44" font-size="13" font-family="'Liberation Sans', sans-serif" text-anchor="middle" fill="#111" textLength="27.7" lengthAdjust="spacingAndGlyphs" transform="rotate(-90 688.6 929.44)">2000</text>
<text x="688.6" y="859.71" font-size="13" font-family="'Liberation Sans', sans-serif" text-anchor="middle" fill="#111" textLength="27.7" lengthAdjust="spacingAndGlyphs" transform="rotate(-90 688.6 859.71)">3000</text>
<text x="688.6" y="789.98" font-size="13" font-family="'Liberation Sans', sans-serif" text-anchor="middle" fill="#111" textLength="27.7" lengthAdjust="spacingAndGlyphs" transform="rotate(-90 688.6 789.98)">4000</text>
<text x="714.4" y="1109.1" font-size="13" font-family="'Liberation Sans', sans-serif" text-anchor="middle" fill="#111" textLength="6.8" lengthAdjust="spacingAndGlyphs">0</text>
<text x="839.1" y="1109.1" font-size="13" font-family="'Liberation Sans', sans-serif" text-anchor="middle" fill="#111" textLength="14.2" lengthAdjust="spacingAndGlyphs">10</text>
<text x="963.8" y="1109.1" font-size="13" font-family="'Liberation Sans', sans-serif" text-anchor="middle" fill="#111" textLength="14.2" lengthAdjust="spacingAndGlyphs">20</text>
<text x="1088.5" y="1109.1" font-size="13" font-family="'Liberation Sans', sans-serif" text-anchor="middle" fill="#111" textLength="14.2" lengthAdjust="spacingAndGlyphs">30</text>
<text x="1213.2" y="1109.1" font-size="13" font-family="'Liberation Sans', sans-serif" text-anchor="middle" fill="#111" textLength="14.2" lengthAdjust="spacingAndGlyphs">40</text>
<text x="970.2" y="1139.6" font-size="13" font-family="'Liberation Sans', sans-serif" text-anchor="middle" fill="#111" textLength="109.3" lengthAdjust="spacingAndGlyphs">number of samples</text>
<text x="657.7" y="918.7" font-size="13" font-family="'Liberation Sans', sans-serif" text-anchor="middle" fill="#111" textLength="104.3" lengthAdjust="spacingAndGlyphs" transform="rotate(-90 657.7 918.7)">number of species</text>
<line x1="1434.75" y1="715.4" x2="1434.75" y2="1153.3" stroke="#FAFAFA" stroke-width="0.8"/>
<line x1="1595.05" y1="715.4" x2="1595.05" y2="1153.3" stroke="#FAFAFA" stroke-width="0.8"/>
<line x1="1755.35" y1="715.4" x2="1755.35" y2="1153.3" stroke="#FAFAFA" stroke-width="0.8"/>
<line x1="1333.3" y1="1062" x2="1816.4" y2="1062" stroke="#FAFAFA" stroke-width="0.8"/>
<line x1="1333.3" y1="918.4" x2="1816.4" y2="918.4" stroke="#FAFAFA" stroke-width="0.8"/>
<line x1="1333.3" y1="774.8" x2="1816.4" y2="774.8" stroke="#FAFAFA" stroke-width="0.8"/>
<line x1="1354.6" y1="715.4" x2="1354.6" y2="1153.3" stroke="#EEEEEE" stroke-width="1"/>
<line x1="1514.9" y1="715.4" x2="1514.9" y2="1153.3" stroke="#EEEEEE" stroke-width="1"/>
<line x1="1675.2" y1="715.4" x2="1675.2" y2="1153.3" stroke="#EEEEEE" stroke-width="1"/>
<line x1="1333.3" y1="1133.8" x2="1816.4" y2="1133.8" stroke="#EEEEEE" stroke-width="1"/>
<line x1="1333.3" y1="990.2" x2="1816.4" y2="990.2" stroke="#EEEEEE" stroke-width="1"/>
<line x1="1333.3" y1="846.6" x2="1816.4" y2="846.6" stroke="#EEEEEE" stroke-width="1"/>
<g fill="none" stroke-width="1.05" stroke-linejoin="round"><path d="M1354.9 807.2 1355.2 857.7 1355.6 882.4 1355.9 897.6 1356.2 907.8 1356.5 915.1 1356.8 920.4 1357.2 924.3 1357.5 927.2 1357.8 929.3 1358.1 930.6 1358.4 931.1 1358.8 935.1 1359.1 938.7 1359.4 941.8 1359.7 945.1 1360.1 947.8 1360.4 950.2 1360.7 952.8 1361.0 954.9 1361.3 957.2 1361.7 959.6 1362.0 961.5 1362.3 963.5 1362.6 965.6 1362.9 967.0 1363.3 968.5 1363.6 970.1 1363.9 971.7 1364.2 973.4 1364.5 975.2 1364.9 976.1 1365.2 978.0 1365.5 978.9 1365.8 979.9 1366.1 981.0 1366.5 982.0 1366.8 983.1 1367.1 984.2 1367.4 985.3 1367.7 986.5 1368.1 987.7 1368.4 988.9 1368.7 990.2 1369.0 990.2 1369.3 991.5 1369.7 992.9 1370.0 994.3 1370.3 994.3 1370.6 995.7 1371.0 995.7 1371.3 997.2 1371.6 997.2 1371.9 998.8 1372.2 998.8 1372.6 1000.4 1372.9 1000.4 1373.2 1002.1 1373.8 1002.1 1374.2 1003.9 1374.5 1003.9 1374.8 1005.7 1375.4 1005.7 1375.8 1007.7 1376.4 1007.7 1376.7 1009.7 1377.7 1009.7 1378.0 1011.8 1379.0 1011.8 1379.3 1014.0 1380.2 1014.0 1380.6 1016.4 1381.9 1016.4 1382.2 1018.9 1383.8 1018.9 1384.1 1021.6 1385.7 1021.6 1386.0 1024.5 1387.9 1024.5 1388.3 1027.5 1390.8 1027.5 1391.1 1030.8 1394.0 1030.8 1394.4 1034.4 1397.9 1034.4 1398.2 1038.4 1402.7 1038.4 1403.0 1042.8 1408.5 1042.8 1408.8 1047.6 1416.2 1047.6 1416.5 1053.2 1425.8 1053.2 1426.1 1059.6 1439.6 1059.6 1439.9 1067.1 1459.1 1067.1 1459.4 1076.4 1489.9 1076.4 1490.2 1088.3 1544.4 1088.3 1544.7 1105.1 1664.0 1105.1 1664.3 1133.8 1753.1 1133.8" stroke="#F8766D"/><path d="M1354.9 796.4 1355.2 849.3 1355.6 875.2 1355.9 891.1 1356.2 901.8 1356.5 909.5 1356.8 915.0 1357.2 919.2 1357.5 922.2 1357.8 924.3 1358.1 925.7 1358.4 926.3 1358.8 930.2 1359.1 934.1 1359.4 937.2 1359.7 940.6 1360.1 943.4 1360.4 946.0 1360.7 948.3 1361.0 950.7 1361.3 953.3 1361.7 955.5 1362.0 957.2 1362.3 959.6 1362.6 961.5 1362.9 962.8 1363.3 964.9 1363.6 966.3 1363.9 967.8 1364.2 969.3 1364.5 970.9 1364.9 972.5 1365.2 973.4 1365.5 975.2 1365.8 976.1 1366.1 978.0 1366.5 978.9 1366.8 979.9 1367.1 981.0 1367.4 982.0 1367.7 983.1 1368.1 984.2 1368.4 985.3 1368.7 986.5 1369.0 987.7 1369.3 988.9 1369.7 988.9 1370.0 990.2 1370.3 991.5 1370.6 991.5 1371.0 992.9 1371.3 994.3 1371.6 994.3 1371.9 995.7 1372.2 995.7 1372.6 997.2 1372.9 997.2 1373.2 998.8 1373.5 998.8 1373.8 1000.4 1374.2 1000.4 1374.5 1002.1 1375.1 1002.1 1375.4 1003.9 1376.1 1003.9 1376.4 1005.7 1377.0 1005.7 1377.4 1007.7 1378.0 1007.7 1378.3 1009.7 1379.3 1009.7 1379.6 1011.8 1380.6 1011.8 1380.9 1014.0 1382.2 1014.0 1382.5 1016.4 1383.8 1016.4 1384.1 1018.9 1385.7 1018.9 1386.0 1021.6 1387.6 1021.6 1387.9 1024.5 1390.2 1024.5 1390.5 1027.5 1393.1 1027.5 1393.4 1030.8 1396.3 1030.8 1396.6 1034.4 1400.4 1034.4 1400.8 1038.4 1405.3 1038.4 1405.6 1042.8 1411.3 1042.8 1411.7 1047.6 1419.0 1047.6 1419.4 1053.2 1429.3 1053.2 1429.6 1059.6 1443.1 1059.6 1443.4 1067.1 1463.0 1067.1 1463.3 1076.4 1494.1 1076.4 1494.4 1088.3 1548.6 1088.3 1548.9 1105.1 1667.5 1105.1 1667.8 1133.8 1787.1 1133.8" stroke="#F27D53"/><path d="M1354.9 784.5 1355.2 856.4 1355.6 891.6 1355.9 913.2 1356.2 927.7 1356.5 938.1 1356.8 945.7 1357.2 951.3 1357.5 955.4 1357.8 958.3 1358.1 960.1 1358.4 961.0 1358.8 964.9 1359.1 967.8 1359.4 970.9 1359.7 973.4 1360.1 976.1 1360.4 978.0 1360.7 981.0 1361.0 983.1 1361.3 985.3 1361.7 986.5 1362.0 988.9 1362.3 990.2 1362.6 991.5 1362.9 992.9 1363.3 995.7 1363.6 997.2 1363.9 997.2 1364.2 998.8 1364.5 1000.4 1364.9 1002.1 1365.2 1003.9 1365.5 1003.9 1365.8 1005.7 1366.1 1005.7 1366.5 1007.7 1366.8 1009.7 1367.1 1009.7 1367.4 1011.8 1368.1 1011.8 1368.4 1014.0 1368.7 1014.0 1369.0 1016.4 1369.7 1016.4 1370.0 1018.9 1370.6 1018.9 1371.0 1021.6 1371.9 1021.6 1372.2 1024.5 1373.2 1024.5 1373.5 1027.5 1374.8 1027.5 1375.1 1030.8 1376.7 1030.8 1377.0 1034.4 1379.0 1034.4 1379.3 1038.4 1381.9 1038.4 1382.2 1042.8 1385.4 1042.8 1385.7 1047.6 1389.9 1047.6 1390.2 1053.2 1395.6 1053.2 1396.0 1059.6 1403.7 1059.6 1404.0 1067.1 1415.5 1067.1 1415.8 1076.4 1434.1 1076.4 1434.4 1088.3 1467.5 1088.3 1467.8 1105.1 1541.8 1105.1 1542.2 1133.8 1607.2 1133.8" stroke="#EA8331"/><path d="M1354.9 794.8 1355.2 859.1 1355.6 890.6 1355.9 909.9 1356.2 922.9 1356.5 932.2 1356.8 939.0 1357.2 944.0 1357.5 947.7 1357.8 950.3 1358.1 952.0 1358.4 952.7 1358.8 956.6 1359.1 960.2 1359.4 962.8 1359.7 966.3 1360.1 968.5 1360.4 970.9 1360.7 973.4 1361.0 976.1 1361.3 978.0 1361.7 979.9 1362.0 982.0 1362.3 984.2 1362.6 985.3 1362.9 987.7 1363.3 988.9 1363.6 990.2 1363.9 991.5 1364.2 992.9 1364.5 994.3 1364.9 995.7 1365.2 997.2 1365.5 998.8 1365.8 998.8 1366.1 1000.4 1366.5 1002.1 1366.8 1003.9 1367.1 1003.9 1367.4 1005.7 1367.7 1005.7 1368.1 1007.7 1368.4 1007.7 1368.7 1009.7 1369.0 1009.7 1369.3 1011.8 1370.0 1011.8 1370.3 1014.0 1371.0 1014.0 1371.3 1016.4 1371.9 1016.4 1372.2 1018.9 1372.9 1018.9 1373.2 1021.6 1374.5 1021.6 1374.8 1024.5 1375.8 1024.5 1376.1 1027.5 1377.7 1027.5 1378.0 1030.8 1379.6 1030.8 1379.9 1034.4 1382.2 1034.4 1382.5 1038.4 1385.4 1038.4 1385.7 1042.8 1389.2 1042.8 1389.5 1047.6 1394.0 1047.6 1394.4 1053.2 1400.4 1053.2 1400.8 1059.6 1409.4 1059.6 1409.7 1067.1 1422.6 1067.1 1422.9 1076.4 1443.1 1076.4 1443.4 1088.3 1480.0 1088.3 1480.3 1105.1 1562.0 1105.1 1562.3 1133.8 1629.0 1133.8" stroke="#E28A00"/><path d="M1354.9 834.1 1355.2 883.3 1355.6 907.4 1355.9 922.2 1356.2 932.2 1356.5 939.3 1356.8 944.5 1357.2 948.3 1357.5 951.1 1357.8 953.1 1358.1 954.4 1358.4 955.0 1358.8 959.0 1359.1 962.1 1359.4 965.6 1359.7 968.5 1360.1 970.9 1360.4 973.4 1360.7 976.1 1361.0 978.0 1361.3 979.9 1361.7 982.0 1362.0 984.2 1362.3 986.5 1362.6 987.7 1362.9 990.2 1363.3 991.5 1363.6 992.9 1363.9 994.3 1364.2 995.7 1364.5 997.2 1364.9 998.8 1365.2 1000.4 1365.5 1000.4 1365.8 1002.1 1366.1 1003.9 1366.5 1003.9 1366.8 1005.7 1367.1 1007.7 1367.4 1007.7 1367.7 1009.7 1368.1 1009.7 1368.4 1011.8 1369.0 1011.8 1369.3 1014.0 1369.7 1014.0 1370.0 1016.4 1370.6 1016.4 1371.0 1018.9 1371.9 1018.9 1372.2 1021.6 1373.2 1021.6 1373.5 1024.5 1374.5 1024.5 1374.8 1027.5 1376.1 1027.5 1376.4 1030.8 1378.0 1030.8 1378.3 1034.4 1380.2 1034.4 1380.6 1038.4 1383.1 1038.4 1383.5 1042.8 1386.7 1042.8 1387.0 1047.6 1391.1 1047.6 1391.5 1053.2 1397.2 1053.2 1397.6 1059.6 1405.3 1059.6 1405.6 1067.1 1417.4 1067.1 1417.8 1076.4 1436.0 1076.4 1436.4 1088.3 1469.7 1088.3 1470.0 1105.1 1544.1 1105.1 1544.4 1133.8 1578.7 1133.8" stroke="#D89000"/><path d="M1354.9 808.9 1355.2 875.7 1355.6 908.5 1355.9 928.5 1356.2 942.1 1356.5 951.7 1356.8 958.8 1357.2 964.0 1357.5 967.8 1357.8 970.5 1358.1 972.2 1358.4 973.0 1358.8 975.2 1359.1 977.0 1359.4 978.9 1359.7 981.0 1360.1 982.0 1360.4 984.2 1360.7 985.3 1361.0 986.5 1361.3 987.7 1361.7 988.9 1362.0 990.2 1362.3 991.5 1362.6 992.9 1362.9 992.9 1363.3 994.3 1363.6 995.7 1363.9 997.2 1364.2 997.2 1364.5 998.8 1364.9 998.8 1365.2 1000.4 1365.5 1000.4 1365.8 1002.1 1366.1 1002.1 1366.5 1003.9 1366.8 1003.9 1367.1 1005.7 1367.7 1005.7 1368.1 1007.7 1368.7 1007.7 1369.0 1009.7 1369.7 1009.7 1370.0 1011.8 1371.0 1011.8 1371.3 1014.0 1372.2 1014.0 1372.6 1016.4 1373.8 1016.4 1374.2 1018.9 1375.4 1018.9 1375.8 1021.6 1377.4 1021.6 1377.7 1024.5 1379.6 1024.5 1379.9 1027.5 1382.2 1027.5 1382.5 1030.8 1385.4 1030.8 1385.7 1034.4 1388.9 1034.4 1389.2 1038.4 1393.4 1038.4 1393.7 1042.8 1398.5 1042.8 1398.8 1047.6 1405.3 1047.6 1405.6 1053.2 1413.9 1053.2 1414.2 1059.6 1425.1 1059.6 1425.5 1067.1 1440.5 1067.1 1440.8 1076.4 1462.3 1076.4 1462.6 1088.3 1496.3 1088.3 1496.6 1105.1 1555.3 1105.1 1555.6 1133.8 1635.1 1133.8" stroke="#CD9600"/><path d="M1354.9 794.2 1355.2 847.9 1355.6 874.2 1355.9 890.3 1356.2 901.2 1356.5 908.9 1356.8 914.6 1357.2 918.8 1357.5 921.8 1357.8 924.0 1358.1 925.4 1358.4 926.0 1358.8 929.9 1359.1 933.4 1359.4 936.8 1359.7 939.8 1360.1 942.6 1360.4 945.6 1360.7 947.8 1361.0 950.2 1361.3 952.2 1361.7 954.4 1362.0 956.6 1362.3 958.4 1362.6 960.2 1362.9 962.1 1363.3 964.2 1363.6 965.6 1363.9 967.0 1364.2 968.5 1364.5 970.1 1364.9 971.7 1365.2 972.5 1365.5 974.3 1365.8 975.2 1366.1 977.0 1366.5 978.0 1366.8 978.9 1367.1 979.9 1367.4 981.0 1367.7 982.0 1368.1 983.1 1368.4 984.2 1368.7 985.3 1369.0 986.5 1369.3 987.7 1369.7 987.7 1370.0 988.9 1370.3 990.2 1370.6 990.2 1371.0 991.5 1371.3 992.9 1371.6 992.9 1371.9 994.3 1372.2 994.3 1372.6 995.7 1372.9 995.7 1373.2 997.2 1373.5 997.2 1373.8 998.8 1374.2 998.8 1374.5 1000.4 1375.1 1000.4 1375.4 1002.1 1375.8 1002.1 1376.1 1003.9 1376.7 1003.9 1377.0 1005.7 1377.7 1005.7 1378.0 1007.7 1379.0 1007.7 1379.3 1009.7 1380.2 1009.7 1380.6 1011.8 1381.5 1011.8 1381.9 1014.0 1383.1 1014.0 1383.5 1016.4 1385.1 1016.4 1385.4 1018.9 1387.0 1018.9 1387.3 1021.6 1389.2 1021.6 1389.5 1024.5 1391.8 1024.5 1392.1 1027.5 1395.0 1027.5 1395.3 1030.8 1398.5 1030.8 1398.8 1034.4 1402.7 1034.4 1403.0 1038.4 1408.1 1038.4 1408.5 1042.8 1414.6 1042.8 1414.9 1047.6 1422.9 1047.6 1423.2 1053.2 1433.8 1053.2 1434.1 1059.6 1448.5 1059.6 1448.9 1067.1 1470.3 1067.1 1470.7 1076.4 1504.3 1076.4 1504.6 1088.3 1564.3 1088.3 1564.6 1105.1 1695.7 1105.1 1696.0 1133.8 1788.4 1133.8" stroke="#C09B00"/><path d="M1354.9 782.5 1355.2 845.8 1355.6 876.8 1355.9 895.8 1356.2 908.7 1356.5 917.8 1356.8 924.5 1357.2 929.4 1357.5 933.0 1357.8 935.6 1358.1 937.2 1358.4 937.9 1358.8 941.8 1359.1 945.6 1359.4 948.8 1359.7 951.7 1360.1 954.4 1360.4 956.6 1360.7 959.6 1361.0 961.5 1361.3 963.5 1361.7 965.6 1362.0 967.8 1362.3 970.1 1362.6 971.7 1362.9 973.4 1363.3 975.2 1363.6 976.1 1363.9 978.0 1364.2 978.9 1364.5 981.0 1364.9 982.0 1365.2 983.1 1365.5 985.3 1365.8 986.5 1366.1 987.7 1366.5 988.9 1366.8 988.9 1367.1 990.2 1367.4 991.5 1367.7 992.9 1368.1 994.3 1368.4 994.3 1368.7 995.7 1369.0 997.2 1369.3 997.2 1369.7 998.8 1370.0 998.8 1370.3 1000.4 1370.6 1000.4 1371.0 1002.1 1371.3 1002.1 1371.6 1003.9 1371.9 1003.9 1372.2 1005.7 1372.9 1005.7 1373.2 1007.7 1373.8 1007.7 1374.2 1009.7 1374.8 1009.7 1375.1 1011.8 1375.8 1011.8 1376.1 1014.0 1377.0 1014.0 1377.4 1016.4 1378.3 1016.4 1378.6 1018.9 1379.9 1018.9 1380.2 1021.6 1381.9 1021.6 1382.2 1024.5 1383.8 1024.5 1384.1 1027.5 1386.3 1027.5 1386.7 1030.8 1389.2 1030.8 1389.5 1034.4 1392.8 1034.4 1393.1 1038.4 1396.9 1038.4 1397.2 1042.8 1402.0 1042.8 1402.4 1047.6 1408.8 1047.6 1409.1 1053.2 1417.4 1053.2 1417.8 1059.6 1429.6 1059.6 1429.9 1067.1 1446.9 1067.1 1447.3 1076.4 1474.8 1076.4 1475.1 1088.3 1523.9 1088.3 1524.2 1105.1 1632.2 1105.1 1632.6 1133.8 1730.7 1133.8" stroke="#B2A000"/><path d="M1354.9 833.3 1355.2 879.2 1355.6 901.7 1355.9 915.4 1356.2 924.7 1356.5 931.3 1356.8 936.2 1357.2 939.8 1357.5 942.4 1357.8 944.2 1358.1 945.4 1358.4 945.9 1358.8 949.7 1359.1 953.3 1359.4 956.0 1359.7 959.0 1360.1 961.5 1360.4 964.2 1360.7 966.3 1361.0 968.5 1361.3 970.9 1361.7 973.4 1362.0 975.2 1362.3 977.0 1362.6 978.9 1362.9 979.9 1363.3 982.0 1363.6 983.1 1363.9 985.3 1364.2 986.5 1364.5 987.7 1364.9 988.9 1365.2 990.2 1365.5 991.5 1365.8 992.9 1366.1 994.3 1366.5 994.3 1366.8 995.7 1367.1 997.2 1367.4 998.8 1367.7 998.8 1368.1 1000.4 1368.4 1000.4 1368.7 1002.1 1369.0 1003.9 1369.3 1003.9 1369.7 1005.7 1370.3 1005.7 1370.6 1007.7 1371.0 1007.7 1371.3 1009.7 1371.9 1009.7 1372.2 1011.8 1372.9 1011.8 1373.2 1014.0 1373.8 1014.0 1374.2 1016.4 1375.1 1016.4 1375.4 1018.9 1376.4 1018.9 1376.7 1021.6 1378.0 1021.6 1378.3 1024.5 1379.9 1024.5 1380.2 1027.5 1381.9 1027.5 1382.2 1030.8 1384.4 1030.8 1384.7 1034.4 1387.6 1034.4 1387.9 1038.4 1391.1 1038.4 1391.5 1042.8 1395.6 1042.8 1396.0 1047.6 1401.4 1047.6 1401.7 1053.2 1409.1 1053.2 1409.4 1059.6 1419.7 1059.6 1420.0 1067.1 1434.8 1067.1 1435.1 1076.4 1458.8 1076.4 1459.1 1088.3 1501.8 1088.3 1502.1 1105.1 1596.0 1105.1 1596.3 1133.8 1686.1 1133.8" stroke="#A3A500"/><path d="M1354.9 774.7 1355.2 838.6 1355.6 870.0 1355.9 889.1 1356.2 902.1 1356.5 911.3 1356.8 918.0 1357.2 923.0 1357.5 926.7 1357.8 929.2 1358.1 930.9 1358.4 931.6 1358.8 935.8 1359.1 939.0 1359.4 942.2 1359.7 945.6 1360.1 948.3 1360.4 950.7 1360.7 953.3 1361.0 955.5 1361.3 957.8 1361.7 959.6 1362.0 962.1 1362.3 963.5 1362.6 965.6 1362.9 967.0 1363.3 969.3 1363.6 970.9 1363.9 972.5 1364.2 973.4 1364.5 975.2 1364.9 976.1 1365.2 978.0 1365.5 978.9 1365.8 979.9 1366.1 982.0 1366.5 983.1 1366.8 984.2 1367.1 985.3 1367.4 986.5 1367.7 987.7 1368.1 987.7 1368.4 988.9 1368.7 990.2 1369.0 991.5 1369.3 991.5 1369.7 992.9 1370.0 994.3 1370.3 994.3 1370.6 995.7 1371.0 995.7 1371.3 997.2 1371.6 998.8 1372.2 998.8 1372.6 1000.4 1372.9 1000.4 1373.2 1002.1 1373.5 1002.1 1373.8 1003.9 1374.5 1003.9 1374.8 1005.7 1375.4 1005.7 1375.8 1007.7 1376.4 1007.7 1376.7 1009.7 1377.4 1009.7 1377.7 1011.8 1378.6 1011.8 1379.0 1014.0 1380.2 1014.0 1380.6 1016.4 1381.9 1016.4 1382.2 1018.9 1383.5 1018.9 1383.8 1021.6 1385.7 1021.6 1386.0 1024.5 1387.9 1024.5 1388.3 1027.5 1390.8 1027.5 1391.1 1030.8 1394.0 1030.8 1394.4 1034.4 1397.9 1034.4 1398.2 1038.4 1402.7 1038.4 1403.0 1042.8 1408.5 1042.8 1408.8 1047.6 1415.8 1047.6 1416.2 1053.2 1425.8 1053.2 1426.1 1059.6 1439.6 1059.6 1439.9 1067.1 1459.1 1067.1 1459.4 1076.4 1489.9 1076.4 1490.2 1088.3 1544.7 1088.3 1545.0 1105.1 1665.6 1105.1 1665.9 1133.8 1790.0 1133.8" stroke="#91AA00"/><path d="M1354.9 806.9 1355.2 870.3 1355.6 901.4 1355.9 920.4 1356.2 933.2 1356.5 942.4 1356.8 949.1 1357.2 954.0 1357.5 957.6 1357.8 960.2 1358.1 961.8 1358.4 962.6 1358.8 966.3 1359.1 970.1 1359.4 972.5 1359.7 976.1 1360.1 978.0 1360.4 981.0 1360.7 983.1 1361.0 985.3 1361.3 987.7 1361.7 990.2 1362.0 991.5 1362.3 992.9 1362.6 995.7 1362.9 997.2 1363.3 998.8 1363.6 1000.4 1363.9 1000.4 1364.2 1002.1 1364.5 1003.9 1364.9 1005.7 1365.2 1005.7 1365.5 1007.7 1365.8 1009.7 1366.1 1009.7 1366.5 1011.8 1366.8 1011.8 1367.1 1014.0 1367.4 1014.0 1367.7 1016.4 1368.4 1016.4 1368.7 1018.9 1369.3 1018.9 1369.7 1021.6 1370.3 1021.6 1370.6 1024.5 1371.6 1024.5 1371.9 1027.5 1372.9 1027.5 1373.2 1030.8 1374.5 1030.8 1374.8 1034.4 1376.4 1034.4 1376.7 1038.4 1379.0 1038.4 1379.3 1042.8 1381.9 1042.8 1382.2 1047.6 1385.7 1047.6 1386.0 1053.2 1390.8 1053.2 1391.1 1059.6 1397.9 1059.6 1398.2 1067.1 1408.1 1067.1 1408.5 1076.4 1424.5 1076.4 1424.8 1088.3 1453.7 1088.3 1454.0 1105.1 1518.4 1105.1 1518.7 1133.8 1591.2 1133.8" stroke="#7CAE00"/><path d="M1354.9 786.6 1355.2 848.9 1355.6 879.4 1355.9 898.1 1356.2 910.7 1356.5 919.7 1356.8 926.2 1357.2 931.1 1357.5 934.6 1357.8 937.2 1358.1 938.8 1358.4 939.5 1358.8 943.4 1359.1 946.9 1359.4 950.2 1359.7 953.3 1360.1 956.0 1360.4 958.4 1360.7 960.8 1361.0 963.5 1361.3 965.6 1361.7 967.8 1362.0 969.3 1362.3 971.7 1362.6 973.4 1362.9 975.2 1363.3 977.0 1363.6 978.0 1363.9 979.9 1364.2 981.0 1364.5 983.1 1364.9 984.2 1365.2 985.3 1365.5 986.5 1365.8 987.7 1366.1 988.9 1366.5 990.2 1366.8 991.5 1367.1 992.9 1367.4 994.3 1367.7 994.3 1368.1 995.7 1368.4 997.2 1368.7 997.2 1369.0 998.8 1369.3 998.8 1369.7 1000.4 1370.0 1002.1 1370.3 1002.1 1370.6 1003.9 1371.3 1003.9 1371.6 1005.7 1371.9 1005.7 1372.2 1007.7 1372.9 1007.7 1373.2 1009.7 1373.8 1009.7 1374.2 1011.8 1374.8 1011.8 1375.1 1014.0 1375.8 1014.0 1376.1 1016.4 1377.4 1016.4 1377.7 1018.9 1378.6 1018.9 1379.0 1021.6 1380.2 1021.6 1380.6 1024.5 1382.5 1024.5 1382.8 1027.5 1384.7 1027.5 1385.1 1030.8 1387.3 1030.8 1387.6 1034.4 1390.5 1034.4 1390.8 1038.4 1394.4 1038.4 1394.7 1042.8 1399.5 1042.8 1399.8 1047.6 1405.6 1047.6 1405.9 1053.2 1413.6 1053.2 1413.9 1059.6 1425.1 1059.6 1425.5 1067.1 1441.2 1067.1 1441.5 1076.4 1466.8 1076.4 1467.1 1088.3 1512.3 1088.3 1512.7 1105.1 1612.0 1105.1 1612.4 1133.8 1665.9 1133.8" stroke="#61B200"/><path d="M1354.9 787.9 1355.2 856.5 1355.6 890.0 1355.9 910.6 1356.2 924.5 1356.5 934.4 1356.8 941.6 1357.2 946.9 1357.5 950.8 1357.8 953.6 1358.1 955.4 1358.4 956.2 1358.8 960.2 1359.1 963.5 1359.4 966.3 1359.7 969.3 1360.1 972.5 1360.4 974.3 1360.7 977.0 1361.0 978.9 1361.3 981.0 1361.7 983.1 1362.0 985.3 1362.3 987.7 1362.6 988.9 1362.9 990.2 1363.3 992.9 1363.6 994.3 1363.9 995.7 1364.2 997.2 1364.5 998.8 1364.9 998.8 1365.2 1000.4 1365.5 1002.1 1365.8 1003.9 1366.1 1003.9 1366.5 1005.7 1366.8 1005.7 1367.1 1007.7 1367.4 1009.7 1368.1 1009.7 1368.4 1011.8 1368.7 1011.8 1369.0 1014.0 1369.3 1014.0 1369.7 1016.4 1370.3 1016.4 1370.6 1018.9 1371.6 1018.9 1371.9 1021.6 1372.6 1021.6 1372.9 1024.5 1374.2 1024.5 1374.5 1027.5 1375.8 1027.5 1376.1 1030.8 1377.7 1030.8 1378.0 1034.4 1379.9 1034.4 1380.2 1038.4 1382.8 1038.4 1383.1 1042.8 1386.0 1042.8 1386.3 1047.6 1390.5 1047.6 1390.8 1053.2 1396.6 1053.2 1396.9 1059.6 1404.6 1059.6 1404.9 1067.1 1416.5 1067.1 1416.8 1076.4 1435.1 1076.4 1435.4 1088.3 1468.1 1088.3 1468.4 1105.1 1542.2 1105.1 1542.5 1133.8 1572.0 1133.8" stroke="#39B600"/><path d="M1354.9 785.3 1355.2 860.0 1355.6 896.6 1355.9 919.0 1356.2 934.1 1356.5 944.9 1356.8 952.7 1357.2 958.6 1357.5 962.8 1357.8 965.8 1358.1 967.8 1358.4 968.6 1358.8 970.9 1359.1 973.4 1359.4 975.2 1359.7 977.0 1360.1 978.0 1360.4 979.9 1360.7 981.0 1361.0 983.1 1361.3 984.2 1361.7 985.3 1362.0 986.5 1362.3 987.7 1362.6 988.9 1362.9 990.2 1363.3 991.5 1363.6 992.9 1363.9 992.9 1364.2 994.3 1364.5 995.7 1364.9 995.7 1365.2 997.2 1365.5 998.8 1365.8 998.8 1366.1 1000.4 1366.5 1000.4 1366.8 1002.1 1367.4 1002.1 1367.7 1003.9 1368.1 1003.9 1368.4 1005.7 1369.0 1005.7 1369.3 1007.7 1370.0 1007.7 1370.3 1009.7 1371.0 1009.7 1371.3 1011.8 1372.2 1011.8 1372.6 1014.0 1373.5 1014.0 1373.8 1016.4 1375.1 1016.4 1375.4 1018.9 1376.7 1018.9 1377.0 1021.6 1378.6 1021.6 1379.0 1024.5 1381.2 1024.5 1381.5 1027.5 1383.8 1027.5 1384.1 1030.8 1387.0 1030.8 1387.3 1034.4 1390.5 1034.4 1390.8 1038.4 1395.0 1038.4 1395.3 1042.8 1400.8 1042.8 1401.1 1047.6 1407.5 1047.6 1407.8 1053.2 1416.5 1053.2 1416.8 1059.6 1428.0 1059.6 1428.3 1067.1 1444.4 1067.1 1444.7 1076.4 1468.1 1076.4 1468.4 1088.3 1505.6 1088.3 1505.9 1105.1 1573.9 1105.1 1574.2 1133.8 1613.3 1133.8" stroke="#00B92A"/><path d="M1354.9 789.6 1355.2 850.4 1355.6 880.1 1355.9 898.3 1356.2 910.6 1356.5 919.4 1356.8 925.8 1357.2 930.5 1357.5 934.0 1357.8 936.4 1358.1 938.0 1358.4 938.7 1358.8 942.2 1359.1 945.1 1359.4 948.3 1359.7 950.7 1360.1 953.3 1360.4 955.5 1360.7 957.8 1361.0 960.2 1361.3 962.1 1361.7 964.2 1362.0 965.6 1362.3 967.8 1362.6 969.3 1362.9 970.9 1363.3 972.5 1363.6 973.4 1363.9 975.2 1364.2 976.1 1364.5 978.0 1364.9 978.9 1365.2 979.9 1365.5 981.0 1365.8 983.1 1366.1 984.2 1366.5 985.3 1366.8 985.3 1367.1 986.5 1367.4 987.7 1367.7 988.9 1368.1 990.2 1368.4 990.2 1368.7 991.5 1369.0 992.9 1369.3 992.9 1369.7 994.3 1370.0 995.7 1370.3 995.7 1370.6 997.2 1371.0 997.2 1371.3 998.8 1371.6 998.8 1371.9 1000.4 1372.6 1000.4 1372.9 1002.1 1373.2 1002.1 1373.5 1003.9 1374.2 1003.9 1374.5 1005.7 1375.1 1005.7 1375.4 1007.7 1376.1 1007.7 1376.4 1009.7 1377.4 1009.7 1377.7 1011.8 1378.6 1011.8 1379.0 1014.0 1380.2 1014.0 1380.6 1016.4 1381.9 1016.4 1382.2 1018.9 1383.8 1018.9 1384.1 1021.6 1386.0 1021.6 1386.3 1024.5 1388.3 1024.5 1388.6 1027.5 1391.5 1027.5 1391.8 1030.8 1394.7 1030.8 1395.0 1034.4 1398.8 1034.4 1399.2 1038.4 1404.0 1038.4 1404.3 1042.8 1410.4 1042.8 1410.7 1047.6 1418.1 1047.6 1418.4 1053.2 1428.7 1053.2 1429.0 1059.6 1443.4 1059.6 1443.7 1067.1 1464.2 1067.1 1464.6 1076.4 1497.3 1076.4 1497.6 1088.3 1555.6 1088.3 1555.9 1105.1 1682.9 1105.1 1683.2 1133.8 1736.4 1133.8" stroke="#00BB4E"/><path d="M1354.9 823.9 1355.2 866.0 1355.6 886.5 1355.9 899.1 1356.2 907.7 1356.5 913.7 1356.8 918.1 1357.2 921.4 1357.5 923.8 1357.8 925.5 1358.1 926.6 1358.4 927.1 1358.8 931.2 1359.1 934.4 1359.4 937.9 1359.7 941.0 1360.1 943.8 1360.4 946.4 1360.7 948.8 1361.0 951.2 1361.3 953.3 1361.7 955.5 1362.0 957.8 1362.3 959.6 1362.6 961.5 1362.9 962.8 1363.3 964.9 1363.6 966.3 1363.9 967.8 1364.2 969.3 1364.5 970.9 1364.9 972.5 1365.2 973.4 1365.5 975.2 1365.8 976.1 1366.1 977.0 1366.5 978.9 1366.8 979.9 1367.1 981.0 1367.4 982.0 1367.7 983.1 1368.1 984.2 1368.4 985.3 1368.7 986.5 1369.0 987.7 1369.3 987.7 1369.7 988.9 1370.0 990.2 1370.3 990.2 1370.6 991.5 1371.0 992.9 1371.3 992.9 1371.6 994.3 1371.9 994.3 1372.2 995.7 1372.6 997.2 1372.9 997.2 1373.2 998.8 1373.8 998.8 1374.2 1000.4 1374.5 1000.4 1374.8 1002.1 1375.4 1002.1 1375.8 1003.9 1376.4 1003.9 1376.7 1005.7 1377.4 1005.7 1377.7 1007.7 1378.3 1007.7 1378.6 1009.7 1379.6 1009.7 1379.9 1011.8 1380.9 1011.8 1381.2 1014.0 1382.5 1014.0 1382.8 1016.4 1384.1 1016.4 1384.4 1018.9 1386.0 1018.9 1386.3 1021.6 1388.3 1021.6 1388.6 1024.5 1390.5 1024.5 1390.8 1027.5 1393.4 1027.5 1393.7 1030.8 1396.9 1030.8 1397.2 1034.4 1401.1 1034.4 1401.4 1038.4 1405.9 1038.4 1406.2 1042.8 1412.0 1042.8 1412.3 1047.6 1420.0 1047.6 1420.3 1053.2 1430.3 1053.2 1430.6 1059.6 1444.0 1059.6 1444.4 1067.1 1463.9 1067.1 1464.2 1076.4 1495.3 1076.4 1495.7 1088.3 1549.8 1088.3 1550.2 1105.1 1667.8 1105.1 1668.1 1133.8 1733.2 1133.8" stroke="#00BE67"/><path d="M1354.9 779.5 1355.2 833.0 1355.6 859.1 1355.9 875.1 1356.2 885.9 1356.5 893.6 1356.8 899.3 1357.2 903.4 1357.5 906.5 1357.8 908.6 1358.1 910.0 1358.4 910.6 1358.8 914.5 1359.1 917.9 1359.4 921.2 1359.7 924.3 1360.1 927.0 1360.4 929.6 1360.7 932.1 1361.0 934.4 1361.3 936.8 1361.7 938.7 1362.0 941.0 1362.3 943.0 1362.6 944.7 1362.9 946.4 1363.3 948.3 1363.6 949.7 1363.9 951.2 1364.2 952.8 1364.5 954.4 1364.9 956.0 1365.2 957.2 1365.5 958.4 1365.8 959.6 1366.1 960.8 1366.5 962.1 1366.8 963.5 1367.1 964.9 1367.4 965.6 1367.7 967.0 1368.1 967.8 1368.4 969.3 1368.7 970.1 1369.0 970.9 1369.3 971.7 1369.7 972.5 1370.0 974.3 1370.3 975.2 1370.6 976.1 1371.0 977.0 1371.3 977.0 1371.6 978.0 1371.9 978.9 1372.2 979.9 1372.6 981.0 1372.9 981.0 1373.2 982.0 1373.5 983.1 1373.8 984.2 1374.2 984.2 1374.5 985.3 1374.8 985.3 1375.1 986.5 1375.4 987.7 1375.8 987.7 1376.1 988.9 1376.4 988.9 1376.7 990.2 1377.0 990.2 1377.4 991.5 1377.7 991.5 1378.0 992.9 1378.6 992.9 1379.0 994.3 1379.3 994.3 1379.6 995.7 1380.2 995.7 1380.6 997.2 1381.2 997.2 1381.5 998.8 1382.2 998.8 1382.5 1000.4 1383.1 1000.4 1383.5 1002.1 1384.4 1002.1 1384.7 1003.9 1385.7 1003.9 1386.0 1005.7 1387.0 1005.7 1387.3 1007.7 1388.6 1007.7 1388.9 1009.7 1390.2 1009.7 1390.5 1011.8 1392.1 1011.8 1392.4 1014.0 1394.0 1014.0 1394.4 1016.4 1396.6 1016.4 1396.9 1018.9 1399.2 1018.9 1399.5 1021.6 1402.0 1021.6 1402.4 1024.5 1405.6 1024.5 1405.9 1027.5 1409.4 1027.5 1409.7 1030.8 1413.9 1030.8 1414.2 1034.4 1419.4 1034.4 1419.7 1038.4 1426.1 1038.4 1426.4 1042.8 1434.1 1042.8 1434.4 1047.6 1444.4 1047.6 1444.7 1053.2 1457.5 1053.2 1457.8 1059.6 1475.1 1059.6 1475.5 1067.1 1500.5 1067.1 1500.8 1076.4 1538.9 1076.4 1539.3 1088.3 1604.3 1088.3 1604.7 1105.1 1740.6 1105.1 1740.9 1133.8 1792.9 1133.8" stroke="#00BF7D"/><path d="M1354.9 831.4 1355.2 872.3 1355.6 892.4 1355.9 904.7 1356.2 913.0 1356.5 918.9 1356.8 923.2 1357.2 926.4 1357.5 928.8 1357.8 930.4 1358.1 931.5 1358.4 932.0 1358.8 935.8 1359.1 939.4 1359.4 942.6 1359.7 945.6 1360.1 948.3 1360.4 951.2 1360.7 953.8 1361.0 956.0 1361.3 958.4 1361.7 960.2 1362.0 962.1 1362.3 964.2 1362.6 965.6 1362.9 967.8 1363.3 969.3 1363.6 970.9 1363.9 972.5 1364.2 974.3 1364.5 975.2 1364.9 977.0 1365.2 978.0 1365.5 978.9 1365.8 981.0 1366.1 982.0 1366.5 983.1 1366.8 984.2 1367.1 985.3 1367.4 986.5 1367.7 987.7 1368.1 988.9 1368.4 988.9 1368.7 990.2 1369.0 991.5 1369.3 992.9 1369.7 992.9 1370.0 994.3 1370.3 995.7 1370.6 995.7 1371.0 997.2 1371.3 997.2 1371.6 998.8 1371.9 998.8 1372.2 1000.4 1372.6 1000.4 1372.9 1002.1 1373.5 1002.1 1373.8 1003.9 1374.2 1003.9 1374.5 1005.7 1375.1 1005.7 1375.4 1007.7 1376.1 1007.7 1376.4 1009.7 1377.4 1009.7 1377.7 1011.8 1378.6 1011.8 1379.0 1014.0 1379.9 1014.0 1380.2 1016.4 1381.5 1016.4 1381.9 1018.9 1383.5 1018.9 1383.8 1021.6 1385.4 1021.6 1385.7 1024.5 1387.6 1024.5 1387.9 1027.5 1390.5 1027.5 1390.8 1030.8 1393.7 1030.8 1394.0 1034.4 1397.6 1034.4 1397.9 1038.4 1402.4 1038.4 1402.7 1042.8 1408.1 1042.8 1408.5 1047.6 1415.5 1047.6 1415.8 1053.2 1425.5 1053.2 1425.8 1059.6 1438.9 1059.6 1439.2 1067.1 1458.5 1067.1 1458.8 1076.4 1489.3 1076.4 1489.6 1088.3 1543.8 1088.3 1544.1 1105.1 1664.0 1105.1 1664.3 1133.8 1792.9 1133.8" stroke="#00C091"/><path d="M1354.9 816.3 1355.2 870.4 1355.6 896.9 1355.9 913.2 1356.2 924.2 1356.5 932.0 1356.8 937.7 1357.2 941.9 1357.5 945.0 1357.8 947.2 1358.1 948.6 1358.4 949.2 1358.8 953.3 1359.1 956.6 1359.4 959.6 1359.7 962.8 1360.1 965.6 1360.4 967.8 1360.7 970.1 1361.0 972.5 1361.3 975.2 1361.7 977.0 1362.0 978.9 1362.3 981.0 1362.6 982.0 1362.9 984.2 1363.3 985.3 1363.6 987.7 1363.9 988.9 1364.2 990.2 1364.5 991.5 1364.9 992.9 1365.2 994.3 1365.5 995.7 1365.8 997.2 1366.1 997.2 1366.5 998.8 1366.8 1000.4 1367.1 1002.1 1367.4 1002.1 1367.7 1003.9 1368.1 1003.9 1368.4 1005.7 1368.7 1005.7 1369.0 1007.7 1369.3 1007.7 1369.7 1009.7 1370.0 1009.7 1370.3 1011.8 1371.0 1011.8 1371.3 1014.0 1371.9 1014.0 1372.2 1016.4 1372.9 1016.4 1373.2 1018.9 1374.2 1018.9 1374.5 1021.6 1375.8 1021.6 1376.1 1024.5 1377.4 1024.5 1377.7 1027.5 1379.0 1027.5 1379.3 1030.8 1381.2 1030.8 1381.5 1034.4 1384.1 1034.4 1384.4 1038.4 1387.3 1038.4 1387.6 1042.8 1391.1 1042.8 1391.5 1047.6 1396.3 1047.6 1396.6 1053.2 1403.0 1053.2 1403.3 1059.6 1412.3 1059.6 1412.6 1067.1 1426.1 1067.1 1426.4 1076.4 1447.3 1076.4 1447.6 1088.3 1485.4 1088.3 1485.7 1105.1 1569.7 1105.1 1570.0 1133.8 1616.5 1133.8" stroke="#00C1A3"/><path d="M1354.9 821.9 1355.2 853.3 1355.6 868.6 1355.9 878.0 1356.2 884.4 1356.5 888.9 1356.8 892.2 1357.2 894.6 1357.5 896.4 1357.8 897.7 1358.1 898.5 1358.4 898.9 1358.8 902.9 1359.1 906.5 1359.4 909.9 1359.7 913.2 1360.1 916.2 1360.4 918.9 1360.7 921.5 1361.0 924.0 1361.3 926.5 1361.7 928.8 1362.0 930.9 1362.3 933.1 1362.6 935.1 1362.9 936.8 1363.3 938.7 1363.6 940.6 1363.9 942.2 1364.2 943.8 1364.5 945.6 1364.9 946.9 1365.2 948.3 1365.5 949.7 1365.8 951.2 1366.1 952.8 1366.5 953.8 1366.8 955.5 1367.1 956.6 1367.4 957.8 1367.7 959.0 1368.1 960.2 1368.4 961.5 1368.7 962.1 1369.0 963.5 1369.3 964.9 1369.7 965.6 1370.0 966.3 1370.3 967.8 1370.6 968.5 1371.0 969.3 1371.3 970.1 1371.6 971.7 1371.9 972.5 1372.2 973.4 1372.6 974.3 1372.9 975.2 1373.2 976.1 1373.5 976.1 1373.8 977.0 1374.2 978.0 1374.5 978.9 1374.8 979.9 1375.1 979.9 1375.4 981.0 1375.8 982.0 1376.1 983.1 1376.4 983.1 1376.7 984.2 1377.0 984.2 1377.4 985.3 1377.7 986.5 1378.0 986.5 1378.3 987.7 1378.6 987.7 1379.0 988.9 1379.3 988.9 1379.6 990.2 1379.9 990.2 1380.2 991.5 1380.6 991.5 1380.9 992.9 1381.5 992.9 1381.9 994.3 1382.2 994.3 1382.5 995.7 1383.1 995.7 1383.5 997.2 1384.1 997.2 1384.4 998.8 1385.1 998.8 1385.4 1000.4 1386.3 1000.4 1386.7 1002.1 1387.3 1002.1 1387.6 1003.9 1388.6 1003.9 1388.9 1005.7 1389.9 1005.7 1390.2 1007.7 1391.5 1007.7 1391.8 1009.7 1393.1 1009.7 1393.4 1011.8 1395.0 1011.8 1395.3 1014.0 1396.9 1014.0 1397.2 1016.4 1399.2 1016.4 1399.5 1018.9 1401.7 1018.9 1402.0 1021.6 1404.6 1021.6 1404.9 1024.5 1407.8 1024.5 1408.1 1027.5 1411.3 1027.5 1411.7 1030.8 1415.5 1030.8 1415.8 1034.4 1420.6 1034.4 1421.0 1038.4 1426.4 1038.4 1426.7 1042.8 1433.8 1042.8 1434.1 1047.6 1442.8 1047.6 1443.1 1053.2 1454.0 1053.2 1454.3 1059.6 1469.1 1059.6 1469.4 1067.1 1489.9 1067.1 1490.2 1076.4 1521.0 1076.4 1521.3 1088.3 1571.6 1088.3 1572.0 1105.1 1671.4 1105.1 1671.7 1133.8 1772.3 1133.8" stroke="#00C0B4"/><path d="M1354.9 806.0 1355.2 859.5 1355.6 885.7 1355.9 901.8 1356.2 912.6 1356.5 920.3 1356.8 926.0 1357.2 930.2 1357.5 933.2 1357.8 935.4 1358.1 936.8 1358.4 937.4 1358.8 941.4 1359.1 944.7 1359.4 947.8 1359.7 951.2 1360.1 953.8 1360.4 956.6 1360.7 959.0 1361.0 961.5 1361.3 963.5 1361.7 965.6 1362.0 967.8 1362.3 969.3 1362.6 970.9 1362.9 972.5 1363.3 974.3 1363.6 976.1 1363.9 978.0 1364.2 978.9 1364.5 981.0 1364.9 982.0 1365.2 983.1 1365.5 984.2 1365.8 985.3 1366.1 986.5 1366.5 987.7 1366.8 988.9 1367.1 990.2 1367.4 991.5 1367.7 992.9 1368.1 994.3 1368.4 994.3 1368.7 995.7 1369.0 997.2 1369.3 997.2 1369.7 998.8 1370.0 998.8 1370.3 1000.4 1370.6 1000.4 1371.0 1002.1 1371.3 1002.1 1371.6 1003.9 1371.9 1003.9 1372.2 1005.7 1372.9 1005.7 1373.2 1007.7 1373.8 1007.7 1374.2 1009.7 1374.8 1009.7 1375.1 1011.8 1375.8 1011.8 1376.1 1014.0 1377.0 1014.0 1377.4 1016.4 1378.3 1016.4 1378.6 1018.9 1379.9 1018.9 1380.2 1021.6 1381.9 1021.6 1382.2 1024.5 1383.8 1024.5 1384.1 1027.5 1386.3 1027.5 1386.7 1030.8 1389.2 1030.8 1389.5 1034.4 1392.4 1034.4 1392.8 1038.4 1396.6 1038.4 1396.9 1042.8 1401.7 1042.8 1402.0 1047.6 1408.5 1047.6 1408.8 1053.2 1417.1 1053.2 1417.4 1059.6 1429.0 1059.6 1429.3 1067.1 1446.3 1067.1 1446.6 1076.4 1473.5 1076.4 1473.9 1088.3 1521.6 1088.3 1522.0 1105.1 1628.1 1105.1 1628.4 1133.8 1712.7 1133.8" stroke="#00BFC4"/><path d="M1354.9 778.0 1355.2 839.1 1355.6 869.1 1355.9 887.4 1356.2 899.8 1356.5 908.7 1356.8 915.1 1357.2 919.9 1357.5 923.4 1357.8 925.8 1358.1 927.4 1358.4 928.1 1358.8 931.8 1359.1 934.7 1359.4 937.9 1359.7 940.6 1360.1 943.0 1360.4 945.6 1360.7 947.8 1361.0 949.7 1361.3 951.7 1361.7 953.8 1362.0 955.5 1362.3 957.8 1362.6 959.0 1362.9 960.8 1363.3 962.1 1363.6 964.2 1363.9 965.6 1364.2 967.0 1364.5 968.5 1364.9 969.3 1365.2 970.9 1365.5 971.7 1365.8 973.4 1366.1 974.3 1366.5 975.2 1366.8 977.0 1367.1 978.0 1367.4 978.9 1367.7 979.9 1368.1 981.0 1368.4 982.0 1368.7 983.1 1369.0 983.1 1369.3 984.2 1369.7 985.3 1370.0 986.5 1370.3 986.5 1370.6 987.7 1371.0 988.9 1371.3 988.9 1371.6 990.2 1371.9 991.5 1372.2 991.5 1372.6 992.9 1372.9 992.9 1373.2 994.3 1373.5 994.3 1373.8 995.7 1374.2 995.7 1374.5 997.2 1375.1 997.2 1375.4 998.8 1375.8 998.8 1376.1 1000.4 1376.7 1000.4 1377.0 1002.1 1377.7 1002.1 1378.0 1003.9 1378.6 1003.9 1379.0 1005.7 1379.9 1005.7 1380.2 1007.7 1381.2 1007.7 1381.5 1009.7 1382.5 1009.7 1382.8 1011.8 1384.1 1011.8 1384.4 1014.0 1385.7 1014.0 1386.0 1016.4 1387.6 1016.4 1387.9 1018.9 1389.9 1018.9 1390.2 1021.6 1392.4 1021.6 1392.8 1024.5 1395.3 1024.5 1395.6 1027.5 1398.5 1027.5 1398.8 1030.8 1402.4 1030.8 1402.7 1034.4 1407.2 1034.4 1407.5 1038.4 1412.6 1038.4 1412.9 1042.8 1419.7 1042.8 1420.0 1047.6 1428.7 1047.6 1429.0 1053.2 1439.9 1053.2 1440.2 1059.6 1455.6 1059.6 1455.9 1067.1 1477.7 1067.1 1478.0 1076.4 1512.0 1076.4 1512.3 1088.3 1571.0 1088.3 1571.3 1105.1 1695.1 1105.1 1695.4 1133.8 1792.9 1133.8" stroke="#00BDD3"/><path d="M1354.9 775.9 1355.2 845.8 1355.6 880.1 1355.9 901.1 1356.2 915.3 1356.5 925.4 1356.8 932.7 1357.2 938.2 1357.5 942.2 1357.8 945.0 1358.1 946.8 1358.4 947.6 1358.8 951.7 1359.1 954.9 1359.4 958.4 1359.7 960.8 1360.1 964.2 1360.4 966.3 1360.7 968.5 1361.0 970.9 1361.3 973.4 1361.7 975.2 1362.0 977.0 1362.3 978.9 1362.6 981.0 1362.9 983.1 1363.3 984.2 1363.6 985.3 1363.9 987.7 1364.2 988.9 1364.5 990.2 1364.9 991.5 1365.2 992.9 1365.5 994.3 1365.8 995.7 1366.1 997.2 1366.5 997.2 1366.8 998.8 1367.1 1000.4 1367.4 1000.4 1367.7 1002.1 1368.1 1003.9 1368.4 1003.9 1368.7 1005.7 1369.0 1005.7 1369.3 1007.7 1370.0 1007.7 1370.3 1009.7 1370.6 1009.7 1371.0 1011.8 1371.6 1011.8 1371.9 1014.0 1372.6 1014.0 1372.9 1016.4 1373.5 1016.4 1373.8 1018.9 1374.8 1018.9 1375.1 1021.6 1376.4 1021.6 1376.7 1024.5 1378.0 1024.5 1378.3 1027.5 1379.9 1027.5 1380.2 1030.8 1382.2 1030.8 1382.5 1034.4 1385.1 1034.4 1385.4 1038.4 1388.3 1038.4 1388.6 1042.8 1392.4 1042.8 1392.8 1047.6 1397.6 1047.6 1397.9 1053.2 1404.6 1053.2 1404.9 1059.6 1414.2 1059.6 1414.6 1067.1 1428.3 1067.1 1428.7 1076.4 1450.1 1076.4 1450.5 1088.3 1489.3 1088.3 1489.6 1105.1 1575.5 1105.1 1575.8 1133.8 1616.5 1133.8" stroke="#00BAE0"/><path d="M1354.9 810.1 1355.2 845.4 1355.6 862.7 1355.9 873.2 1356.2 880.4 1356.5 885.5 1356.8 889.2 1357.2 891.9 1357.5 893.9 1357.8 895.4 1358.1 896.3 1358.4 896.7 1358.8 901.1 1359.1 905.2 1359.4 908.8 1359.7 912.2 1360.1 915.5 1360.4 918.4 1360.7 921.2 1361.0 924.0 1361.3 926.5 1361.7 929.0 1362.0 931.2 1362.3 933.4 1362.6 935.4 1362.9 937.6 1363.3 939.4 1363.6 941.4 1363.9 943.0 1364.2 944.7 1364.5 946.4 1364.9 947.8 1365.2 949.2 1365.5 950.7 1365.8 952.2 1366.1 953.8 1366.5 954.9 1366.8 956.6 1367.1 957.8 1367.4 959.0 1367.7 960.2 1368.1 961.5 1368.4 962.8 1368.7 963.5 1369.0 964.9 1369.3 965.6 1369.7 967.0 1370.0 967.8 1370.3 968.5 1370.6 970.1 1371.0 970.9 1371.3 971.7 1371.6 972.5 1371.9 973.4 1372.2 974.3 1372.6 975.2 1372.9 976.1 1373.2 977.0 1373.5 978.0 1373.8 978.9 1374.2 978.9 1374.5 979.9 1374.8 981.0 1375.1 982.0 1375.4 982.0 1375.8 983.1 1376.1 984.2 1376.4 984.2 1376.7 985.3 1377.0 985.3 1377.4 986.5 1377.7 987.7 1378.0 987.7 1378.3 988.9 1378.6 988.9 1379.0 990.2 1379.3 990.2 1379.6 991.5 1380.2 991.5 1380.6 992.9 1380.9 992.9 1381.2 994.3 1381.9 994.3 1382.2 995.7 1382.5 995.7 1382.8 997.2 1383.5 997.2 1383.8 998.8 1384.7 998.8 1385.1 1000.4 1385.7 1000.4 1386.0 1002.1 1387.0 1002.1 1387.3 1003.9 1388.3 1003.9 1388.6 1005.7 1389.5 1005.7 1389.9 1007.7 1391.1 1007.7 1391.5 1009.7 1392.8 1009.7 1393.1 1011.8 1394.7 1011.8 1395.0 1014.0 1396.9 1014.0 1397.2 1016.4 1399.2 1016.4 1399.5 1018.9 1401.7 1018.9 1402.0 1021.6 1404.6 1021.6 1404.9 1024.5 1408.1 1024.5 1408.5 1027.5 1412.0 1027.5 1412.3 1030.8 1416.8 1030.8 1417.1 1034.4 1422.2 1034.4 1422.6 1038.4 1428.7 1038.4 1429.0 1042.8 1436.7 1042.8 1437.0 1047.6 1446.9 1047.6 1447.3 1053.2 1460.1 1053.2 1460.4 1059.6 1477.7 1059.6 1478.0 1067.1 1502.4 1067.1 1502.7 1076.4 1540.5 1076.4 1540.9 1088.3 1605.6 1088.3 1606.0 1105.1 1740.6 1105.1 1740.9 1133.8 1792.9 1133.8" stroke="#00B5EC"/><path d="M1354.9 791.4 1355.2 857.3 1355.6 889.5 1355.9 909.3 1356.2 922.6 1356.5 932.1 1356.8 939.1 1357.2 944.2 1357.5 947.9 1357.8 950.6 1358.1 952.3 1358.4 953.1 1358.8 957.2 1359.1 960.2 1359.4 963.5 1359.7 966.3 1360.1 969.3 1360.4 971.7 1360.7 974.3 1361.0 976.1 1361.3 978.0 1361.7 979.9 1362.0 982.0 1362.3 984.2 1362.6 985.3 1362.9 987.7 1363.3 988.9 1363.6 990.2 1363.9 991.5 1364.2 992.9 1364.5 994.3 1364.9 995.7 1365.2 997.2 1365.5 998.8 1365.8 1000.4 1366.1 1000.4 1366.5 1002.1 1366.8 1003.9 1367.1 1003.9 1367.4 1005.7 1367.7 1005.7 1368.1 1007.7 1368.4 1007.7 1368.7 1009.7 1369.0 1009.7 1369.3 1011.8 1369.7 1011.8 1370.0 1014.0 1370.6 1014.0 1371.0 1016.4 1371.6 1016.4 1371.9 1018.9 1372.9 1018.9 1373.2 1021.6 1374.2 1021.6 1374.5 1024.5 1375.8 1024.5 1376.1 1027.5 1377.4 1027.5 1377.7 1030.8 1379.6 1030.8 1379.9 1034.4 1382.2 1034.4 1382.5 1038.4 1385.1 1038.4 1385.4 1042.8 1388.9 1042.8 1389.2 1047.6 1393.7 1047.6 1394.0 1053.2 1400.1 1053.2 1400.4 1059.6 1409.1 1059.6 1409.4 1067.1 1421.9 1067.1 1422.2 1076.4 1442.4 1076.4 1442.8 1088.3 1479.0 1088.3 1479.3 1105.1 1560.1 1105.1 1560.4 1133.8 1602.4 1133.8" stroke="#00B0F6"/><path d="M1354.9 826.4 1355.2 864.1 1355.6 882.5 1355.9 893.8 1356.2 901.4 1356.5 906.8 1356.8 910.8 1357.2 913.7 1357.5 915.9 1357.8 917.4 1358.1 918.4 1358.4 918.8 1358.8 922.5 1359.1 925.9 1359.4 929.0 1359.7 932.1 1360.1 934.7 1360.4 937.2 1360.7 939.8 1361.0 942.2 1361.3 944.3 1361.7 946.4 1362.0 948.3 1362.3 950.2 1362.6 952.2 1362.9 953.8 1363.3 955.5 1363.6 957.2 1363.9 958.4 1364.2 960.2 1364.5 961.5 1364.9 962.8 1365.2 964.2 1365.5 965.6 1365.8 967.0 1366.1 967.8 1366.5 969.3 1366.8 970.1 1367.1 971.7 1367.4 972.5 1367.7 973.4 1368.1 974.3 1368.4 976.1 1368.7 977.0 1369.0 978.0 1369.3 978.9 1369.7 979.9 1370.0 979.9 1370.3 981.0 1370.6 982.0 1371.0 983.1 1371.3 984.2 1371.6 984.2 1371.9 985.3 1372.2 986.5 1372.6 986.5 1372.9 987.7 1373.2 988.9 1373.5 988.9 1373.8 990.2 1374.2 990.2 1374.5 991.5 1374.8 991.5 1375.1 992.9 1375.4 992.9 1375.8 994.3 1376.1 994.3 1376.4 995.7 1377.0 995.7 1377.4 997.2 1377.7 997.2 1378.0 998.8 1378.6 998.8 1379.0 1000.4 1379.6 1000.4 1379.9 1002.1 1380.6 1002.1 1380.9 1003.9 1381.9 1003.9 1382.2 1005.7 1383.1 1005.7 1383.5 1007.7 1384.4 1007.7 1384.7 1009.7 1386.0 1009.7 1386.3 1011.8 1387.6 1011.8 1387.9 1014.0 1389.5 1014.0 1389.9 1016.4 1391.5 1016.4 1391.8 1018.9 1394.0 1018.9 1394.4 1021.6 1396.6 1021.6 1396.9 1024.5 1399.8 1024.5 1400.1 1027.5 1403.3 1027.5 1403.7 1030.8 1407.8 1030.8 1408.1 1034.4 1412.6 1034.4 1412.9 1038.4 1418.7 1038.4 1419.0 1042.8 1426.4 1042.8 1426.7 1047.6 1436.0 1047.6 1436.4 1053.2 1448.5 1053.2 1448.9 1059.6 1465.2 1059.6 1465.5 1067.1 1489.3 1067.1 1489.6 1076.4 1526.4 1076.4 1526.8 1088.3 1590.6 1088.3 1590.9 1105.1 1726.5 1105.1 1726.8 1133.8 1792.9 1133.8" stroke="#00A9FF"/><path d="M1354.9 781.7 1355.2 861.9 1355.6 901.1 1355.9 925.2 1356.2 941.4 1356.5 953.0 1356.8 961.5 1357.2 967.7 1357.5 972.3 1357.8 975.5 1358.1 977.6 1358.4 978.5 1358.8 981.0 1359.1 983.1 1359.4 984.2 1359.7 985.3 1360.1 987.7 1360.4 988.9 1360.7 990.2 1361.0 991.5 1361.3 992.9 1361.7 992.9 1362.0 994.3 1362.3 995.7 1362.6 997.2 1362.9 997.2 1363.3 998.8 1363.6 1000.4 1363.9 1000.4 1364.2 1002.1 1364.5 1002.1 1364.9 1003.9 1365.5 1003.9 1365.8 1005.7 1366.1 1005.7 1366.5 1007.7 1367.1 1007.7 1367.4 1009.7 1368.1 1009.7 1368.4 1011.8 1369.0 1011.8 1369.3 1014.0 1370.3 1014.0 1370.6 1016.4 1371.9 1016.4 1372.2 1018.9 1373.5 1018.9 1373.8 1021.6 1375.4 1021.6 1375.8 1024.5 1377.4 1024.5 1377.7 1027.5 1379.9 1027.5 1380.2 1030.8 1382.8 1030.8 1383.1 1034.4 1386.3 1034.4 1386.7 1038.4 1390.5 1038.4 1390.8 1042.8 1395.6 1042.8 1396.0 1047.6 1402.0 1047.6 1402.4 1053.2 1410.4 1053.2 1410.7 1059.6 1420.6 1059.6 1421.0 1067.1 1434.8 1067.1 1435.1 1076.4 1454.6 1076.4 1454.9 1088.3 1483.5 1088.3 1483.8 1105.1 1530.0 1105.1 1530.3 1133.8 1586.4 1133.8" stroke="#35A2FF"/><path d="M1354.9 836.9 1355.2 880.3 1355.6 901.5 1355.9 914.5 1356.2 923.3 1356.5 929.6 1356.8 934.2 1357.2 937.5 1357.5 940.0 1357.8 941.8 1358.1 942.9 1358.4 943.4 1358.8 947.4 1359.1 950.2 1359.4 953.3 1359.7 956.0 1360.1 959.0 1360.4 961.5 1360.7 963.5 1361.0 965.6 1361.3 967.8 1361.7 970.1 1362.0 971.7 1362.3 973.4 1362.6 975.2 1362.9 977.0 1363.3 978.9 1363.6 979.9 1363.9 981.0 1364.2 983.1 1364.5 984.2 1364.9 985.3 1365.2 986.5 1365.5 987.7 1365.8 988.9 1366.1 990.2 1366.5 991.5 1366.8 992.9 1367.1 994.3 1367.4 994.3 1367.7 995.7 1368.1 997.2 1368.4 997.2 1368.7 998.8 1369.0 998.8 1369.3 1000.4 1369.7 1000.4 1370.0 1002.1 1370.3 1002.1 1370.6 1003.9 1371.0 1003.9 1371.3 1005.7 1371.6 1005.7 1371.9 1007.7 1372.6 1007.7 1372.9 1009.7 1373.5 1009.7 1373.8 1011.8 1374.5 1011.8 1374.8 1014.0 1375.8 1014.0 1376.1 1016.4 1377.0 1016.4 1377.4 1018.9 1378.6 1018.9 1379.0 1021.6 1380.6 1021.6 1380.9 1024.5 1382.5 1024.5 1382.8 1027.5 1384.7 1027.5 1385.1 1030.8 1387.6 1030.8 1387.9 1034.4 1391.1 1034.4 1391.5 1038.4 1395.0 1038.4 1395.3 1042.8 1400.1 1042.8 1400.4 1047.6 1406.9 1047.6 1407.2 1053.2 1415.2 1053.2 1415.5 1059.6 1427.1 1059.6 1427.4 1067.1 1444.4 1067.1 1444.7 1076.4 1471.6 1076.4 1471.9 1088.3 1520.0 1088.3 1520.4 1105.1 1627.1 1105.1 1627.4 1133.8 1684.2 1133.8" stroke="#7099FF"/><path d="M1354.9 813.6 1355.2 868.2 1355.6 894.9 1355.9 911.2 1356.2 922.3 1356.5 930.2 1356.8 935.9 1357.2 940.2 1357.5 943.3 1357.8 945.5 1358.1 946.9 1358.4 947.5 1358.8 951.2 1359.1 954.4 1359.4 957.2 1359.7 959.6 1360.1 962.1 1360.4 964.2 1360.7 967.0 1361.0 968.5 1361.3 970.9 1361.7 972.5 1362.0 974.3 1362.3 976.1 1362.6 978.0 1362.9 978.9 1363.3 981.0 1363.6 982.0 1363.9 984.2 1364.2 985.3 1364.5 986.5 1364.9 987.7 1365.2 988.9 1365.5 990.2 1365.8 991.5 1366.1 992.9 1366.5 992.9 1366.8 994.3 1367.1 995.7 1367.4 995.7 1367.7 997.2 1368.1 998.8 1368.4 998.8 1368.7 1000.4 1369.0 1000.4 1369.3 1002.1 1369.7 1002.1 1370.0 1003.9 1370.3 1003.9 1370.6 1005.7 1371.0 1005.7 1371.3 1007.7 1371.9 1007.7 1372.2 1009.7 1372.9 1009.7 1373.2 1011.8 1373.8 1011.8 1374.2 1014.0 1375.1 1014.0 1375.4 1016.4 1376.4 1016.4 1376.7 1018.9 1378.0 1018.9 1378.3 1021.6 1379.9 1021.6 1380.2 1024.5 1381.9 1024.5 1382.2 1027.5 1384.1 1027.5 1384.4 1030.8 1387.0 1030.8 1387.3 1034.4 1390.5 1034.4 1390.8 1038.4 1394.4 1038.4 1394.7 1042.8 1399.5 1042.8 1399.8 1047.6 1406.2 1047.6 1406.5 1053.2 1414.9 1053.2 1415.2 1059.6 1426.7 1059.6 1427.1 1067.1 1443.7 1067.1 1444.0 1076.4 1471.0 1076.4 1471.3 1088.3 1519.4 1088.3 1519.7 1105.1 1625.5 1105.1 1625.8 1133.8 1709.2 1133.8" stroke="#9590FF"/><path d="M1354.9 773.2 1355.2 846.5 1355.6 882.5 1355.9 904.4 1356.2 919.3 1356.5 929.9 1356.8 937.6 1357.2 943.3 1357.5 947.5 1357.8 950.5 1358.1 952.4 1358.4 953.2 1358.8 957.2 1359.1 960.8 1359.4 963.5 1359.7 966.3 1360.1 969.3 1360.4 971.7 1360.7 974.3 1361.0 976.1 1361.3 978.9 1361.7 981.0 1362.0 982.0 1362.3 984.2 1362.6 986.5 1362.9 987.7 1363.3 988.9 1363.6 991.5 1363.9 992.9 1364.2 994.3 1364.5 995.7 1364.9 997.2 1365.2 997.2 1365.5 998.8 1365.8 1000.4 1366.1 1002.1 1366.5 1002.1 1366.8 1003.9 1367.1 1005.7 1367.4 1005.7 1367.7 1007.7 1368.1 1007.7 1368.4 1009.7 1368.7 1009.7 1369.0 1011.8 1369.7 1011.8 1370.0 1014.0 1370.6 1014.0 1371.0 1016.4 1371.6 1016.4 1371.9 1018.9 1372.6 1018.9 1372.9 1021.6 1373.8 1021.6 1374.2 1024.5 1375.4 1024.5 1375.8 1027.5 1377.0 1027.5 1377.4 1030.8 1379.3 1030.8 1379.6 1034.4 1381.5 1034.4 1381.9 1038.4 1384.7 1038.4 1385.1 1042.8 1388.3 1042.8 1388.6 1047.6 1393.1 1047.6 1393.4 1053.2 1399.2 1053.2 1399.5 1059.6 1407.8 1059.6 1408.1 1067.1 1420.3 1067.1 1420.6 1076.4 1440.2 1076.4 1440.5 1088.3 1475.5 1088.3 1475.8 1105.1 1554.0 1105.1 1554.3 1133.8 1621.3 1133.8" stroke="#B186FF"/><path d="M1354.9 734.6 1355.2 815.5 1355.6 855.1 1355.9 879.4 1356.2 895.8 1356.5 907.4 1356.8 916.0 1357.2 922.3 1357.5 926.9 1357.8 930.2 1358.1 932.3 1358.4 933.2 1358.8 936.8 1359.1 939.8 1359.4 942.6 1359.7 945.1 1360.1 947.8 1360.4 950.2 1360.7 952.2 1361.0 954.4 1361.3 956.6 1361.7 958.4 1362.0 960.2 1362.3 962.1 1362.6 963.5 1362.9 964.9 1363.3 966.3 1363.6 967.8 1363.9 969.3 1364.2 970.9 1364.5 972.5 1364.9 973.4 1365.2 975.2 1365.5 976.1 1365.8 977.0 1366.1 978.0 1366.5 978.9 1366.8 979.9 1367.1 981.0 1367.4 982.0 1367.7 983.1 1368.1 984.2 1368.4 985.3 1368.7 986.5 1369.0 987.7 1369.3 987.7 1369.7 988.9 1370.0 990.2 1370.3 990.2 1370.6 991.5 1371.0 991.5 1371.3 992.9 1371.6 994.3 1371.9 994.3 1372.2 995.7 1372.6 995.7 1372.9 997.2 1373.5 997.2 1373.8 998.8 1374.2 998.8 1374.5 1000.4 1375.1 1000.4 1375.4 1002.1 1376.1 1002.1 1376.4 1003.9 1377.0 1003.9 1377.4 1005.7 1378.0 1005.7 1378.3 1007.7 1379.3 1007.7 1379.6 1009.7 1380.6 1009.7 1380.9 1011.8 1382.2 1011.8 1382.5 1014.0 1383.8 1014.0 1384.1 1016.4 1385.7 1016.4 1386.0 1018.9 1387.9 1018.9 1388.3 1021.6 1390.2 1021.6 1390.5 1024.5 1393.1 1024.5 1393.4 1027.5 1396.3 1027.5 1396.6 1030.8 1400.1 1030.8 1400.4 1034.4 1404.9 1034.4 1405.3 1038.4 1410.4 1038.4 1410.7 1042.8 1417.4 1042.8 1417.8 1047.6 1426.1 1047.6 1426.4 1053.2 1438.0 1053.2 1438.3 1059.6 1453.7 1059.6 1454.0 1067.1 1476.4 1067.1 1476.7 1076.4 1512.0 1076.4 1512.3 1088.3 1574.5 1088.3 1574.9 1105.1 1708.2 1105.1 1708.5 1133.8 1752.8 1133.8" stroke="#C77CFF"/><path d="M1354.9 836.6 1355.2 861.9 1355.6 874.4 1355.9 882.0 1356.2 887.1 1356.5 890.8 1356.8 893.4 1357.2 895.4 1357.5 896.9 1357.8 897.9 1358.1 898.6 1358.4 898.8 1358.8 903.2 1359.1 907.2 1359.4 910.9 1359.7 914.3 1360.1 917.5 1360.4 920.5 1360.7 923.3 1361.0 925.9 1361.3 928.5 1361.7 930.9 1362.0 933.1 1362.3 935.1 1362.6 937.2 1362.9 939.4 1363.3 941.4 1363.6 943.0 1363.9 944.7 1364.2 946.4 1364.5 948.3 1364.9 949.7 1365.2 951.2 1365.5 952.8 1365.8 953.8 1366.1 955.5 1366.5 956.6 1366.8 958.4 1367.1 959.6 1367.4 960.8 1367.7 961.5 1368.1 962.8 1368.4 964.2 1368.7 964.9 1369.0 966.3 1369.3 967.0 1369.7 968.5 1370.0 969.3 1370.3 970.1 1370.6 971.7 1371.0 972.5 1371.3 973.4 1371.6 974.3 1371.9 975.2 1372.2 976.1 1372.6 977.0 1372.9 978.0 1373.2 978.0 1373.5 978.9 1373.8 979.9 1374.2 981.0 1374.5 982.0 1374.8 982.0 1375.1 983.1 1375.4 984.2 1375.8 984.2 1376.1 985.3 1376.4 985.3 1376.7 986.5 1377.0 987.7 1377.4 987.7 1377.7 988.9 1378.0 988.9 1378.3 990.2 1378.6 990.2 1379.0 991.5 1379.3 991.5 1379.6 992.9 1380.2 992.9 1380.6 994.3 1380.9 994.3 1381.2 995.7 1381.9 995.7 1382.2 997.2 1382.8 997.2 1383.1 998.8 1383.8 998.8 1384.1 1000.4 1384.7 1000.4 1385.1 1002.1 1386.0 1002.1 1386.3 1003.9 1387.3 1003.9 1387.6 1005.7 1388.6 1005.7 1388.9 1007.7 1390.2 1007.7 1390.5 1009.7 1391.8 1009.7 1392.1 1011.8 1393.7 1011.8 1394.0 1014.0 1396.0 1014.0 1396.3 1016.4 1398.2 1016.4 1398.5 1018.9 1400.8 1018.9 1401.1 1021.6 1403.7 1021.6 1404.0 1024.5 1407.2 1024.5 1407.5 1027.5 1411.0 1027.5 1411.3 1030.8 1415.5 1030.8 1415.8 1034.4 1421.0 1034.4 1421.3 1038.4 1427.4 1038.4 1427.7 1042.8 1435.4 1042.8 1435.7 1047.6 1445.3 1047.6 1445.7 1053.2 1458.5 1053.2 1458.8 1059.6 1476.1 1059.6 1476.4 1067.1 1500.8 1067.1 1501.1 1076.4 1538.9 1076.4 1539.3 1088.3 1604.3 1088.3 1604.7 1105.1 1740.6 1105.1 1740.9 1133.8 1792.9 1133.8" stroke="#D973FC"/><path d="M1354.9 772.0 1355.2 859.7 1355.6 902.6 1355.9 928.9 1356.2 946.7 1356.5 959.3 1356.8 968.6 1357.2 975.4 1357.5 980.4 1357.8 984.0 1358.1 986.3 1358.4 987.3 1358.8 988.9 1359.1 991.5 1359.4 992.9 1359.7 994.3 1360.1 995.7 1360.4 995.7 1360.7 997.2 1361.0 998.8 1361.3 1000.4 1361.7 1000.4 1362.0 1002.1 1362.3 1002.1 1362.6 1003.9 1362.9 1003.9 1363.3 1005.7 1363.6 1005.7 1363.9 1007.7 1364.2 1007.7 1364.5 1009.7 1365.2 1009.7 1365.5 1011.8 1366.1 1011.8 1366.5 1014.0 1367.4 1014.0 1367.7 1016.4 1368.7 1016.4 1369.0 1018.9 1370.0 1018.9 1370.3 1021.6 1371.9 1021.6 1372.2 1024.5 1373.8 1024.5 1374.2 1027.5 1376.1 1027.5 1376.4 1030.8 1378.6 1030.8 1379.0 1034.4 1381.9 1034.4 1382.2 1038.4 1386.0 1038.4 1386.3 1042.8 1390.5 1042.8 1390.8 1047.6 1396.3 1047.6 1396.6 1053.2 1403.7 1053.2 1404.0 1059.6 1412.9 1059.6 1413.3 1067.1 1424.8 1067.1 1425.1 1076.4 1440.2 1076.4 1440.5 1088.3 1461.0 1088.3 1461.4 1105.1 1488.6 1105.1 1488.9 1133.8 1723.3 1133.8" stroke="#E76BF3"/><path d="M1354.9 789.3 1355.2 843.9 1355.6 870.6 1355.9 887.0 1356.2 898.1 1356.5 906.0 1356.8 911.7 1357.2 916.0 1357.5 919.1 1357.8 921.3 1358.1 922.7 1358.4 923.3 1358.8 927.3 1359.1 930.9 1359.4 934.1 1359.7 937.2 1360.1 940.2 1360.4 943.0 1360.7 945.6 1361.0 947.8 1361.3 950.2 1361.7 952.2 1362.0 954.4 1362.3 956.0 1362.6 957.8 1362.9 959.6 1363.3 961.5 1363.6 962.8 1363.9 964.9 1364.2 966.3 1364.5 967.8 1364.9 969.3 1365.2 970.1 1365.5 971.7 1365.8 973.4 1366.1 974.3 1366.5 975.2 1366.8 977.0 1367.1 978.0 1367.4 978.9 1367.7 979.9 1368.1 981.0 1368.4 982.0 1368.7 983.1 1369.0 984.2 1369.3 985.3 1369.7 986.5 1370.0 986.5 1370.3 987.7 1370.6 988.9 1371.0 988.9 1371.3 990.2 1371.6 991.5 1371.9 991.5 1372.2 992.9 1372.6 992.9 1372.9 994.3 1373.2 994.3 1373.5 995.7 1373.8 995.7 1374.2 997.2 1374.5 997.2 1374.8 998.8 1375.1 998.8 1375.4 1000.4 1376.1 1000.4 1376.4 1002.1 1377.0 1002.1 1377.4 1003.9 1378.0 1003.9 1378.3 1005.7 1379.0 1005.7 1379.3 1007.7 1380.2 1007.7 1380.6 1009.7 1381.5 1009.7 1381.9 1011.8 1382.8 1011.8 1383.1 1014.0 1384.7 1014.0 1385.1 1016.4 1386.3 1016.4 1386.7 1018.9 1388.6 1018.9 1388.9 1021.6 1390.8 1021.6 1391.1 1024.5 1393.7 1024.5 1394.0 1027.5 1396.9 1027.5 1397.2 1030.8 1400.4 1030.8 1400.8 1034.4 1404.9 1034.4 1405.3 1038.4 1410.4 1038.4 1410.7 1042.8 1417.1 1042.8 1417.4 1047.6 1425.8 1047.6 1426.1 1053.2 1437.0 1053.2 1437.3 1059.6 1452.7 1059.6 1453.0 1067.1 1474.8 1067.1 1475.1 1076.4 1510.1 1076.4 1510.4 1088.3 1572.0 1088.3 1572.3 1105.1 1706.9 1105.1 1707.3 1133.8 1792.9 1133.8" stroke="#F265E8"/><path d="M1354.9 754.7 1355.2 820.0 1355.6 852.0 1355.9 871.5 1356.2 884.8 1356.5 894.2 1356.8 901.1 1357.2 906.1 1357.5 909.9 1357.8 912.5 1358.1 914.2 1358.4 915.0 1358.8 918.9 1359.1 922.2 1359.4 925.6 1359.7 928.8 1360.1 931.5 1360.4 934.1 1360.7 936.5 1361.0 939.0 1361.3 941.4 1361.7 943.4 1362.0 945.1 1362.3 947.4 1362.6 949.2 1362.9 950.7 1363.3 952.8 1363.6 954.4 1363.9 956.0 1364.2 957.2 1364.5 959.0 1364.9 960.2 1365.2 961.5 1365.5 962.8 1365.8 964.2 1366.1 965.6 1366.5 967.0 1366.8 967.8 1367.1 969.3 1367.4 970.1 1367.7 970.9 1368.1 972.5 1368.4 973.4 1368.7 974.3 1369.0 975.2 1369.3 976.1 1369.7 977.0 1370.0 978.0 1370.3 978.9 1370.6 979.9 1371.0 981.0 1371.3 982.0 1371.6 982.0 1371.9 983.1 1372.2 984.2 1372.6 985.3 1372.9 985.3 1373.2 986.5 1373.5 986.5 1373.8 987.7 1374.2 988.9 1374.5 988.9 1374.8 990.2 1375.1 990.2 1375.4 991.5 1375.8 991.5 1376.1 992.9 1376.4 992.9 1376.7 994.3 1377.0 994.3 1377.4 995.7 1378.0 995.7 1378.3 997.2 1379.0 997.2 1379.3 998.8 1379.6 998.8 1379.9 1000.4 1380.9 1000.4 1381.2 1002.1 1381.9 1002.1 1382.2 1003.9 1383.1 1003.9 1383.5 1005.7 1384.4 1005.7 1384.7 1007.7 1385.7 1007.7 1386.0 1009.7 1387.3 1009.7 1387.6 1011.8 1388.9 1011.8 1389.2 1014.0 1391.1 1014.0 1391.5 1016.4 1393.1 1016.4 1393.4 1018.9 1395.6 1018.9 1396.0 1021.6 1398.5 1021.6 1398.8 1024.5 1401.7 1024.5 1402.0 1027.5 1405.3 1027.5 1405.6 1030.8 1409.7 1030.8 1410.1 1034.4 1414.9 1034.4 1415.2 1038.4 1421.3 1038.4 1421.6 1042.8 1429.0 1042.8 1429.3 1047.6 1438.9 1047.6 1439.2 1053.2 1451.7 1053.2 1452.1 1059.6 1469.4 1059.6 1469.7 1067.1 1494.1 1067.1 1494.4 1076.4 1532.5 1076.4 1532.9 1088.3 1599.2 1088.3 1599.5 1105.1 1740.9 1105.1 1741.2 1133.8 1792.9 1133.8" stroke="#FA62DB"/><path d="M1354.9 780.9 1355.2 831.1 1355.6 855.6 1355.9 870.6 1356.2 880.8 1356.5 888.0 1356.8 893.3 1357.2 897.2 1357.5 900.1 1357.8 902.1 1358.1 903.4 1358.4 904.0 1358.8 908.3 1359.1 912.2 1359.4 916.0 1359.7 919.3 1360.1 922.5 1360.4 925.4 1360.7 928.2 1361.0 930.9 1361.3 933.1 1361.7 935.4 1362.0 937.9 1362.3 939.8 1362.6 942.2 1362.9 943.8 1363.3 946.0 1363.6 947.8 1363.9 949.2 1364.2 951.2 1364.5 952.8 1364.9 954.4 1365.2 955.5 1365.5 957.2 1365.8 958.4 1366.1 959.6 1366.5 961.5 1366.8 962.8 1367.1 963.5 1367.4 964.9 1367.7 966.3 1368.1 967.0 1368.4 968.5 1368.7 969.3 1369.0 970.9 1369.3 971.7 1369.7 972.5 1370.0 973.4 1370.3 974.3 1370.6 975.2 1371.0 976.1 1371.3 977.0 1371.6 978.0 1371.9 978.9 1372.2 979.9 1372.6 981.0 1372.9 982.0 1373.2 982.0 1373.5 983.1 1373.8 984.2 1374.2 985.3 1374.5 985.3 1374.8 986.5 1375.1 986.5 1375.4 987.7 1375.8 988.9 1376.1 988.9 1376.4 990.2 1376.7 990.2 1377.0 991.5 1377.4 991.5 1377.7 992.9 1378.0 992.9 1378.3 994.3 1379.0 994.3 1379.3 995.7 1379.6 995.7 1379.9 997.2 1380.6 997.2 1380.9 998.8 1381.5 998.8 1381.9 1000.4 1382.5 1000.4 1382.8 1002.1 1383.5 1002.1 1383.8 1003.9 1384.7 1003.9 1385.1 1005.7 1386.0 1005.7 1386.3 1007.7 1387.3 1007.7 1387.6 1009.7 1388.9 1009.7 1389.2 1011.8 1390.5 1011.8 1390.8 1014.0 1392.4 1014.0 1392.8 1016.4 1394.7 1016.4 1395.0 1018.9 1397.2 1018.9 1397.6 1021.6 1399.8 1021.6 1400.1 1024.5 1403.0 1024.5 1403.3 1027.5 1406.5 1027.5 1406.9 1030.8 1410.7 1030.8 1411.0 1034.4 1415.8 1034.4 1416.2 1038.4 1421.9 1038.4 1422.2 1042.8 1429.3 1042.8 1429.6 1047.6 1438.9 1047.6 1439.2 1053.2 1451.1 1053.2 1451.4 1059.6 1467.5 1059.6 1467.8 1067.1 1490.9 1067.1 1491.2 1076.4 1526.8 1076.4 1527.1 1088.3 1588.3 1088.3 1588.6 1105.1 1718.2 1105.1 1718.5 1133.8 1792.9 1133.8" stroke="#FF61CC"/><path d="M1354.9 797.8 1355.2 848.3 1355.6 873.1 1355.9 888.2 1356.2 898.5 1356.5 905.8 1356.8 911.1 1357.2 915.0 1357.5 917.9 1357.8 919.9 1358.1 921.3 1358.4 921.8 1358.8 925.9 1359.1 929.6 1359.4 933.1 1359.7 936.1 1360.1 939.0 1360.4 941.8 1360.7 944.3 1361.0 946.9 1361.3 949.2 1361.7 951.2 1362.0 953.3 1362.3 955.5 1362.6 957.2 1362.9 959.0 1363.3 960.8 1363.6 962.1 1363.9 964.2 1364.2 965.6 1364.5 967.0 1364.9 968.5 1365.2 970.1 1365.5 970.9 1365.8 972.5 1366.1 973.4 1366.5 975.2 1366.8 976.1 1367.1 977.0 1367.4 978.9 1367.7 979.9 1368.1 981.0 1368.4 982.0 1368.7 983.1 1369.0 984.2 1369.3 984.2 1369.7 985.3 1370.0 986.5 1370.3 987.7 1370.6 988.9 1371.0 988.9 1371.3 990.2 1371.6 991.5 1371.9 991.5 1372.2 992.9 1372.6 992.9 1372.9 994.3 1373.2 994.3 1373.5 995.7 1373.8 995.7 1374.2 997.2 1374.5 997.2 1374.8 998.8 1375.1 998.8 1375.4 1000.4 1376.1 1000.4 1376.4 1002.1 1377.0 1002.1 1377.4 1003.9 1378.0 1003.9 1378.3 1005.7 1379.0 1005.7 1379.3 1007.7 1379.9 1007.7 1380.2 1009.7 1381.2 1009.7 1381.5 1011.8 1382.8 1011.8 1383.1 1014.0 1384.4 1014.0 1384.7 1016.4 1386.0 1016.4 1386.3 1018.9 1388.3 1018.9 1388.6 1021.6 1390.5 1021.6 1390.8 1024.5 1393.1 1024.5 1393.4 1027.5 1396.3 1027.5 1396.6 1030.8 1399.8 1030.8 1400.1 1034.4 1404.0 1034.4 1404.3 1038.4 1409.4 1038.4 1409.7 1042.8 1415.8 1042.8 1416.2 1047.6 1424.2 1047.6 1424.5 1053.2 1434.8 1053.2 1435.1 1059.6 1449.5 1059.6 1449.8 1067.1 1470.7 1067.1 1471.0 1076.4 1503.7 1076.4 1504.0 1088.3 1561.7 1088.3 1562.0 1105.1 1686.7 1105.1 1687.1 1133.8 1735.5 1133.8" stroke="#FF62BC"/><path d="M1354.9 789.9 1355.2 836.9 1355.6 859.9 1355.9 874.0 1356.2 883.5 1356.5 890.3 1356.8 895.3 1357.2 898.9 1357.5 901.6 1357.8 903.5 1358.1 904.7 1358.4 905.3 1358.8 909.2 1359.1 912.8 1359.4 916.2 1359.7 919.1 1360.1 922.0 1360.4 924.8 1360.7 927.3 1361.0 929.6 1361.3 932.1 1361.7 934.1 1362.0 936.1 1362.3 938.3 1362.6 940.2 1362.9 942.2 1363.3 943.8 1363.6 945.6 1363.9 946.9 1364.2 948.8 1364.5 950.2 1364.9 951.7 1365.2 953.3 1365.5 954.4 1365.8 956.0 1366.1 957.2 1366.5 958.4 1366.8 959.6 1367.1 960.8 1367.4 962.1 1367.7 962.8 1368.1 964.2 1368.4 964.9 1368.7 966.3 1369.0 967.0 1369.3 968.5 1369.7 969.3 1370.0 970.1 1370.3 970.9 1370.6 971.7 1371.0 972.5 1371.3 973.4 1371.6 974.3 1371.9 975.2 1372.2 976.1 1372.6 977.0 1372.9 978.0 1373.2 978.9 1373.5 979.9 1373.8 979.9 1374.2 981.0 1374.5 982.0 1374.8 982.0 1375.1 983.1 1375.4 984.2 1375.8 984.2 1376.1 985.3 1376.4 985.3 1376.7 986.5 1377.0 987.7 1377.4 987.7 1377.7 988.9 1378.0 988.9 1378.3 990.2 1378.6 990.2 1379.0 991.5 1379.6 991.5 1379.9 992.9 1380.2 992.9 1380.6 994.3 1381.2 994.3 1381.5 995.7 1382.2 995.7 1382.5 997.2 1383.1 997.2 1383.5 998.8 1384.1 998.8 1384.4 1000.4 1385.1 1000.4 1385.4 1002.1 1386.3 1002.1 1386.7 1003.9 1387.6 1003.9 1387.9 1005.7 1389.2 1005.7 1389.5 1007.7 1390.8 1007.7 1391.1 1009.7 1392.4 1009.7 1392.8 1011.8 1394.4 1011.8 1394.7 1014.0 1396.6 1014.0 1396.9 1016.4 1398.8 1016.4 1399.2 1018.9 1401.7 1018.9 1402.0 1021.6 1404.6 1021.6 1404.9 1024.5 1408.1 1024.5 1408.5 1027.5 1412.3 1027.5 1412.6 1030.8 1417.1 1030.8 1417.4 1034.4 1422.6 1034.4 1422.9 1038.4 1429.3 1038.4 1429.6 1042.8 1437.3 1042.8 1437.6 1047.6 1447.9 1047.6 1448.2 1053.2 1461.0 1053.2 1461.4 1059.6 1479.0 1059.6 1479.3 1067.1 1504.3 1067.1 1504.6 1076.4 1542.5 1076.4 1542.8 1088.3 1607.6 1088.3 1607.9 1105.1 1740.6 1105.1 1740.9 1133.8 1792.9 1133.8" stroke="#FF65AA"/><path d="M1354.9 782.6 1355.2 836.7 1355.6 863.2 1355.9 879.4 1356.2 890.3 1356.5 898.1 1356.8 903.8 1357.2 908.0 1357.5 911.1 1357.8 913.3 1358.1 914.7 1358.4 915.3 1358.8 919.3 1359.1 923.0 1359.4 926.5 1359.7 929.6 1360.1 932.4 1360.4 935.1 1360.7 937.9 1361.0 940.2 1361.3 942.6 1361.7 944.7 1362.0 946.9 1362.3 948.8 1362.6 950.7 1362.9 952.8 1363.3 954.4 1363.6 956.0 1363.9 957.8 1364.2 959.0 1364.5 960.8 1364.9 962.1 1365.2 963.5 1365.5 964.9 1365.8 966.3 1366.1 967.8 1366.5 968.5 1366.8 970.1 1367.1 970.9 1367.4 972.5 1367.7 973.4 1368.1 974.3 1368.4 975.2 1368.7 977.0 1369.0 978.0 1369.3 978.9 1369.7 979.9 1370.0 981.0 1370.3 981.0 1370.6 982.0 1371.0 983.1 1371.3 984.2 1371.6 985.3 1371.9 985.3 1372.2 986.5 1372.6 987.7 1372.9 987.7 1373.2 988.9 1373.5 990.2 1373.8 990.2 1374.2 991.5 1374.5 991.5 1374.8 992.9 1375.1 992.9 1375.4 994.3 1375.8 994.3 1376.1 995.7 1376.4 995.7 1376.7 997.2 1377.4 997.2 1377.7 998.8 1378.3 998.8 1378.6 1000.4 1379.0 1000.4 1379.3 1002.1 1380.2 1002.1 1380.6 1003.9 1381.2 1003.9 1381.5 1005.7 1382.5 1005.7 1382.8 1007.7 1383.8 1007.7 1384.1 1009.7 1385.1 1009.7 1385.4 1011.8 1386.7 1011.8 1387.0 1014.0 1388.6 1014.0 1388.9 1016.4 1390.5 1016.4 1390.8 1018.9 1392.8 1018.9 1393.1 1021.6 1395.3 1021.6 1395.6 1024.5 1398.5 1024.5 1398.8 1027.5 1401.7 1027.5 1402.0 1030.8 1405.9 1030.8 1406.2 1034.4 1410.7 1034.4 1411.0 1038.4 1416.5 1038.4 1416.8 1042.8 1423.8 1042.8 1424.2 1047.6 1432.8 1047.6 1433.1 1053.2 1444.7 1053.2 1445.0 1059.6 1461.0 1059.6 1461.4 1067.1 1484.1 1067.1 1484.4 1076.4 1520.0 1076.4 1520.4 1088.3 1582.2 1088.3 1582.5 1105.1 1715.6 1105.1 1715.9 1133.8 1768.8 1133.8" stroke="#FF6A98"/><path d="M1354.9 806.2 1355.2 846.6 1355.6 866.3 1355.9 878.4 1356.2 886.6 1356.5 892.4 1356.8 896.7 1357.2 899.8 1357.5 902.1 1357.8 903.8 1358.1 904.8 1358.4 905.3 1358.8 909.2 1359.1 912.8 1359.4 916.2 1359.7 919.1 1360.1 922.0 1360.4 924.8 1360.7 927.3 1361.0 929.6 1361.3 932.1 1361.7 934.1 1362.0 936.1 1362.3 938.3 1362.6 940.2 1362.9 942.2 1363.3 943.8 1363.6 945.6 1363.9 946.9 1364.2 948.8 1364.5 950.2 1364.9 951.7 1365.2 953.3 1365.5 954.4 1365.8 956.0 1366.1 957.2 1366.5 958.4 1366.8 959.6 1367.1 960.8 1367.4 962.1 1367.7 962.8 1368.1 964.2 1368.4 964.9 1368.7 966.3 1369.0 967.0 1369.3 968.5 1369.7 969.3 1370.0 970.1 1370.3 970.9 1370.6 971.7 1371.0 972.5 1371.3 973.4 1371.6 974.3 1371.9 975.2 1372.2 976.1 1372.6 977.0 1372.9 978.0 1373.2 978.9 1373.5 979.9 1373.8 979.9 1374.2 981.0 1374.5 982.0 1374.8 982.0 1375.1 983.1 1375.4 984.2 1375.8 984.2 1376.1 985.3 1376.4 985.3 1376.7 986.5 1377.0 987.7 1377.4 987.7 1377.7 988.9 1378.0 988.9 1378.3 990.2 1378.6 990.2 1379.0 991.5 1379.6 991.5 1379.9 992.9 1380.2 992.9 1380.6 994.3 1381.2 994.3 1381.5 995.7 1382.2 995.7 1382.5 997.2 1383.1 997.2 1383.5 998.8 1384.1 998.8 1384.4 1000.4 1385.1 1000.4 1385.4 1002.1 1386.3 1002.1 1386.7 1003.9 1387.6 1003.9 1387.9 1005.7 1389.2 1005.7 1389.5 1007.7 1390.8 1007.7 1391.1 1009.7 1392.4 1009.7 1392.8 1011.8 1394.4 1011.8 1394.7 1014.0 1396.6 1014.0 1396.9 1016.4 1398.8 1016.4 1399.2 1018.9 1401.7 1018.9 1402.0 1021.6 1404.6 1021.6 1404.9 1024.5 1408.1 1024.5 1408.5 1027.5 1412.3 1027.5 1412.6 1030.8 1417.1 1030.8 1417.4 1034.4 1422.6 1034.4 1422.9 1038.4 1429.3 1038.4 1429.6 1042.8 1437.3 1042.8 1437.6 1047.6 1447.9 1047.6 1448.2 1053.2 1461.0 1053.2 1461.4 1059.6 1479.0 1059.6 1479.3 1067.1 1504.3 1067.1 1504.6 1076.4 1542.5 1076.4 1542.8 1088.3 1607.6 1088.3 1607.9 1105.1 1740.6 1105.1 1740.9 1133.8 1792.9 1133.8" stroke="#FD7083"/></g>
<rect x="1333.3" y="715.4" width="483.1" height="437.9" fill="none" stroke="#B3B3B3" stroke-width="1.1"/>
<path d="M1329.3 1133.8h4M1329.3 990.2h4M1329.3 846.6h4M1354.6 1153.3v4M1514.9 1153.3v4M1675.2 1153.3v4" stroke="#333" stroke-width="1.1" fill="none"/>
<text x="1327.2" y="1137.2" font-size="9.4" font-family="'DejaVu Sans', 'Liberation Sans', sans-serif" text-anchor="end" fill="#333" textLength="4.6" lengthAdjust="spacingAndGlyphs">0</text>
<text x="1327.2" y="993.6" font-size="9.4" font-family="'DejaVu Sans', 'Liberation Sans', sans-serif" text-anchor="end" fill="#333" textLength="4.6" lengthAdjust="spacingAndGlyphs">5</text>
<text x="1327.2" y="850" font-size="9.4" font-family="'DejaVu Sans', 'Liberation Sans', sans-serif" text-anchor="end" fill="#333" textLength="9.8" lengthAdjust="spacingAndGlyphs">10</text>
<text x="1354.9" y="1166.6" font-size="9.4" font-family="'DejaVu Sans', 'Liberation Sans', sans-serif" text-anchor="middle" fill="#333" textLength="4.6" lengthAdjust="spacingAndGlyphs">0</text>
<text x="1515.2" y="1166.6" font-size="9.4" font-family="'DejaVu Sans', 'Liberation Sans', sans-serif" text-anchor="middle" fill="#333" textLength="14.7" lengthAdjust="spacingAndGlyphs">500</text>
<text x="1675.5" y="1166.6" font-size="9.4" font-family="'DejaVu Sans', 'Liberation Sans', sans-serif" text-anchor="middle" fill="#333" textLength="18.8" lengthAdjust="spacingAndGlyphs">1000</text>
<text x="1575" y="711.8" font-size="11.7" font-family="'DejaVu Sans', 'Liberation Sans', sans-serif" text-anchor="middle" textLength="127.8" lengthAdjust="spacingAndGlyphs">Rank Abundance Curve</text>
<text x="1575.1" y="1176.8" font-size="11" font-family="'DejaVu Sans', 'Liberation Sans', sans-serif" text-anchor="middle" textLength="48.8" lengthAdjust="spacingAndGlyphs">OTU Rank</text>
<text x="1314.5" y="934.6" font-size="11" font-family="'DejaVu Sans', 'Liberation Sans', sans-serif" text-anchor="middle" textLength="103.2" lengthAdjust="spacingAndGlyphs" transform="rotate(-90 1314.5 934.6)">OTU Abundance(log2)</text>
<line x1="1830.1" y1="794.4" x2="1841.9" y2="794.4" stroke="#F8766D" stroke-width="1.2"/>
<text x="1846" y="797.7" font-size="9.2" font-family="'DejaVu Sans', 'Liberation Sans', sans-serif" fill="#111" textLength="14.4" lengthAdjust="spacingAndGlyphs">13B</text>
<line x1="1830.1" y1="809.3" x2="1841.9" y2="809.3" stroke="#F27D53" stroke-width="1.2"/>
<text x="1846" y="812.6" font-size="9.2" font-family="'DejaVu Sans', 'Liberation Sans', sans-serif" fill="#111" textLength="14.4" lengthAdjust="spacingAndGlyphs">14B</text>
<line x1="1830.1" y1="824.2" x2="1841.9" y2="824.2" stroke="#EA8331" stroke-width="1.2"/>
<text x="1846" y="827.5" font-size="9.2" font-family="'DejaVu Sans', 'Liberation Sans', sans-serif" fill="#111" textLength="9.6" lengthAdjust="spacingAndGlyphs">1B</text>
<line x1="1830.1" y1="839.1" x2="1841.9" y2="839.1" stroke="#E28A00" stroke-width="1.2"/>
<text x="1846" y="842.4" font-size="9.2" font-family="'DejaVu Sans', 'Liberation Sans', sans-serif" fill="#111" textLength="14.4" lengthAdjust="spacingAndGlyphs">20B</text>
<line x1="1830.1" y1="854" x2="1841.9" y2="854" stroke="#D89000" stroke-width="1.2"/>
<text x="1846" y="857.3" font-size="9.2" font-family="'DejaVu Sans', 'Liberation Sans', sans-serif" fill="#111" textLength="14.4" lengthAdjust="spacingAndGlyphs">21B</text>
<line x1="1830.1" y1="868.9" x2="1841.9" y2="868.9" stroke="#CD9600" stroke-width="1.2"/>
<text x="1846" y="872.2" font-size="9.2" font-family="'DejaVu Sans', 'Liberation Sans', sans-serif" fill="#111" textLength="14.4" lengthAdjust="spacingAndGlyphs">22B</text>
<line x1="1830.1" y1="883.8" x2="1841.9" y2="883.8" stroke="#C09B00" stroke-width="1.2"/>
<text x="1846" y="887.1" font-size="9.2" font-family="'DejaVu Sans', 'Liberation Sans', sans-serif" fill="#111" textLength="14.4" lengthAdjust="spacingAndGlyphs">23B</text>
<line x1="1830.1" y1="898.7" x2="1841.9" y2="898.7" stroke="#B2A000" stroke-width="1.2"/>
<text x="1846" y="902" font-size="9.2" font-family="'DejaVu Sans', 'Liberation Sans', sans-serif" fill="#111" textLength="14.4" lengthAdjust="spacingAndGlyphs">24B</text>
<line x1="1830.1" y1="913.6" x2="1841.9" y2="913.6" stroke="#A3A500" stroke-width="1.2"/>
<text x="1846" y="916.9" font-size="9.2" font-family="'DejaVu Sans', 'Liberation Sans', sans-serif" fill="#111" textLength="14.4" lengthAdjust="spacingAndGlyphs">25B</text>
<line x1="1830.1" y1="928.5" x2="1841.9" y2="928.5" stroke="#91AA00" stroke-width="1.2"/>
<text x="1846" y="931.8" font-size="9.2" font-family="'DejaVu Sans', 'Liberation Sans', sans-serif" fill="#111" textLength="14.4" lengthAdjust="spacingAndGlyphs">26B</text>
<line x1="1830.1" y1="943.4" x2="1841.9" y2="943.4" stroke="#7CAE00" stroke-width="1.2"/>
<text x="1846" y="946.7" font-size="9.2" font-family="'DejaVu Sans', 'Liberation Sans', sans-serif" fill="#111" textLength="9.6" lengthAdjust="spacingAndGlyphs">2B</text>
<line x1="1830.1" y1="958.3" x2="1841.9" y2="958.3" stroke="#61B200" stroke-width="1.2"/>
<text x="1846" y="961.6" font-size="9.2" font-family="'DejaVu Sans', 'Liberation Sans', sans-serif" fill="#111" textLength="14.4" lengthAdjust="spacingAndGlyphs">30B</text>
<line x1="1830.1" y1="973.2" x2="1841.9" y2="973.2" stroke="#39B600" stroke-width="1.2"/>
<text x="1846" y="976.5" font-size="9.2" font-family="'DejaVu Sans', 'Liberation Sans', sans-serif" fill="#111" textLength="14.4" lengthAdjust="spacingAndGlyphs">35B</text>
<line x1="1830.1" y1="988.1" x2="1841.9" y2="988.1" stroke="#00B92A" stroke-width="1.2"/>
<text x="1846" y="991.4" font-size="9.2" font-family="'DejaVu Sans', 'Liberation Sans', sans-serif" fill="#111" textLength="14.4" lengthAdjust="spacingAndGlyphs">36B</text>
<line x1="1830.1" y1="1003" x2="1841.9" y2="1003" stroke="#00BB4E" stroke-width="1.2"/>
<text x="1846" y="1006.3" font-size="9.2" font-family="'DejaVu Sans', 'Liberation Sans', sans-serif" fill="#111" textLength="14.4" lengthAdjust="spacingAndGlyphs">37B</text>
<line x1="1830.1" y1="1017.9" x2="1841.9" y2="1017.9" stroke="#00BE67" stroke-width="1.2"/>
<text x="1846" y="1021.2" font-size="9.2" font-family="'DejaVu Sans', 'Liberation Sans', sans-serif" fill="#111" textLength="14.4" lengthAdjust="spacingAndGlyphs">38B</text>
<line x1="1830.1" y1="1032.8" x2="1841.9" y2="1032.8" stroke="#00BF7D" stroke-width="1.2"/>
<text x="1846" y="1036.1" font-size="9.2" font-family="'DejaVu Sans', 'Liberation Sans', sans-serif" fill="#111" textLength="14.4" lengthAdjust="spacingAndGlyphs">39B</text>
<line x1="1830.1" y1="1047.7" x2="1841.9" y2="1047.7" stroke="#00C091" stroke-width="1.2"/>
<text x="1846" y="1051" font-size="9.2" font-family="'DejaVu Sans', 'Liberation Sans', sans-serif" fill="#111" textLength="9.6" lengthAdjust="spacingAndGlyphs">3B</text>
<line x1="1830.1" y1="1062.6" x2="1841.9" y2="1062.6" stroke="#00C1A3" stroke-width="1.2"/>
<text x="1846" y="1065.9" font-size="9.2" font-family="'DejaVu Sans', 'Liberation Sans', sans-serif" fill="#111" textLength="14.4" lengthAdjust="spacingAndGlyphs">40B</text>
<line x1="1830.1" y1="1077.5" x2="1841.9" y2="1077.5" stroke="#00C0B4" stroke-width="1.2"/>
<text x="1846" y="1080.8" font-size="9.2" font-family="'DejaVu Sans', 'Liberation Sans', sans-serif" fill="#111" textLength="14.4" lengthAdjust="spacingAndGlyphs">41B</text>
<line x1="1864.4" y1="794.4" x2="1876.2" y2="794.4" stroke="#00BFC4" stroke-width="1.2"/>
<text x="1879.8" y="797.7" font-size="9.2" font-family="'DejaVu Sans', 'Liberation Sans', sans-serif" fill="#111" textLength="14.4" lengthAdjust="spacingAndGlyphs">42B</text>
<line x1="1864.4" y1="809.3" x2="1876.2" y2="809.3" stroke="#00BDD3" stroke-width="1.2"/>
<text x="1879.8" y="812.6" font-size="9.2" font-family="'DejaVu Sans', 'Liberation Sans', sans-serif" fill="#111" textLength="14.4" lengthAdjust="spacingAndGlyphs">45B</text>
<line x1="1864.4" y1="824.2" x2="1876.2" y2="824.2" stroke="#00BAE0" stroke-width="1.2"/>
<text x="1879.8" y="827.5" font-size="9.2" font-family="'DejaVu Sans', 'Liberation Sans', sans-serif" fill="#111" textLength="14.4" lengthAdjust="spacingAndGlyphs">46B</text>
<line x1="1864.4" y1="839.1" x2="1876.2" y2="839.1" stroke="#00B5EC" stroke-width="1.2"/>
<text x="1879.8" y="842.4" font-size="9.2" font-family="'DejaVu Sans', 'Liberation Sans', sans-serif" fill="#111" textLength="14.4" lengthAdjust="spacingAndGlyphs">48B</text>
<line x1="1864.4" y1="854" x2="1876.2" y2="854" stroke="#00B0F6" stroke-width="1.2"/>
<text x="1879.8" y="857.3" font-size="9.2" font-family="'DejaVu Sans', 'Liberation Sans', sans-serif" fill="#111" textLength="14.4" lengthAdjust="spacingAndGlyphs">50B</text>
<line x1="1864.4" y1="868.9" x2="1876.2" y2="868.9" stroke="#00A9FF" stroke-width="1.2"/>
<text x="1879.8" y="872.2" font-size="9.2" font-family="'DejaVu Sans', 'Liberation Sans', sans-serif" fill="#111" textLength="14.4" lengthAdjust="spacingAndGlyphs">52B</text>
<line x1="1864.4" y1="883.8" x2="1876.2" y2="883.8" stroke="#35A2FF" stroke-width="1.2"/>
<text x="1879.8" y="887.1" font-size="9.2" font-family="'DejaVu Sans', 'Liberation Sans', sans-serif" fill="#111" textLength="14.4" lengthAdjust="spacingAndGlyphs">53B</text>
<line x1="1864.4" y1="898.7" x2="1876.2" y2="898.7" stroke="#7099FF" stroke-width="1.2"/>
<text x="1879.8" y="902" font-size="9.2" font-family="'DejaVu Sans', 'Liberation Sans', sans-serif" fill="#111" textLength="14.4" lengthAdjust="spacingAndGlyphs">56B</text>
<line x1="1864.4" y1="913.6" x2="1876.2" y2="913.6" stroke="#9590FF" stroke-width="1.2"/>
<text x="1879.8" y="916.9" font-size="9.2" font-family="'DejaVu Sans', 'Liberation Sans', sans-serif" fill="#111" textLength="14.4" lengthAdjust="spacingAndGlyphs">57B</text>
<line x1="1864.4" y1="928.5" x2="1876.2" y2="928.5" stroke="#B186FF" stroke-width="1.2"/>
<text x="1879.8" y="931.8" font-size="9.2" font-family="'DejaVu Sans', 'Liberation Sans', sans-serif" fill="#111" textLength="9.6" lengthAdjust="spacingAndGlyphs">5B</text>
<line x1="1864.4" y1="943.4" x2="1876.2" y2="943.4" stroke="#C77CFF" stroke-width="1.2"/>
<text x="1879.8" y="946.7" font-size="9.2" font-family="'DejaVu Sans', 'Liberation Sans', sans-serif" fill="#111" textLength="14.4" lengthAdjust="spacingAndGlyphs">61B</text>
<line x1="1864.4" y1="958.3" x2="1876.2" y2="958.3" stroke="#D973FC" stroke-width="1.2"/>
<text x="1879.8" y="961.6" font-size="9.2" font-family="'DejaVu Sans', 'Liberation Sans', sans-serif" fill="#111" textLength="14.4" lengthAdjust="spacingAndGlyphs">63B</text>
<line x1="1864.4" y1="973.2" x2="1876.2" y2="973.2" stroke="#E76BF3" stroke-width="1.2"/>
<text x="1879.8" y="976.5" font-size="9.2" font-family="'DejaVu Sans', 'Liberation Sans', sans-serif" fill="#111" textLength="14.4" lengthAdjust="spacingAndGlyphs">65B</text>
<line x1="1864.4" y1="988.1" x2="1876.2" y2="988.1" stroke="#F265E8" stroke-width="1.2"/>
<text x="1879.8" y="991.4" font-size="9.2" font-family="'DejaVu Sans', 'Liberation Sans', sans-serif" fill="#111" textLength="14.4" lengthAdjust="spacingAndGlyphs">66B</text>
<line x1="1864.4" y1="1003" x2="1876.2" y2="1003" stroke="#FA62DB" stroke-width="1.2"/>
<text x="1879.8" y="1006.3" font-size="9.2" font-family="'DejaVu Sans', 'Liberation Sans', sans-serif" fill="#111" textLength="14.4" lengthAdjust="spacingAndGlyphs">67B</text>
<line x1="1864.4" y1="1017.9" x2="1876.2" y2="1017.9" stroke="#FF61CC" stroke-width="1.2"/>
<text x="1879.8" y="1021.2" font-size="9.2" font-family="'DejaVu Sans', 'Liberation Sans', sans-serif" fill="#111" textLength="14.4" lengthAdjust="spacingAndGlyphs">69B</text>
<line x1="1864.4" y1="1032.8" x2="1876.2" y2="1032.8" stroke="#FF62BC" stroke-width="1.2"/>
<text x="1879.8" y="1036.1" font-size="9.2" font-family="'DejaVu Sans', 'Liberation Sans', sans-serif" fill="#111" textLength="9.6" lengthAdjust="spacingAndGlyphs">6B</text>
<line x1="1864.4" y1="1047.7" x2="1876.2" y2="1047.7" stroke="#FF65AA" stroke-width="1.2"/>
<text x="1879.8" y="1051" font-size="9.2" font-family="'DejaVu Sans', 'Liberation Sans', sans-serif" fill="#111" textLength="14.4" lengthAdjust="spacingAndGlyphs">71B</text>
<line x1="1864.4" y1="1062.6" x2="1876.2" y2="1062.6" stroke="#FF6A98" stroke-width="1.2"/>
<text x="1879.8" y="1065.9" font-size="9.2" font-family="'DejaVu Sans', 'Liberation Sans', sans-serif" fill="#111" textLength="9.6" lengthAdjust="spacingAndGlyphs">7B</text>
<line x1="1864.4" y1="1077.5" x2="1876.2" y2="1077.5" stroke="#FD7083" stroke-width="1.2"/>
<text x="1879.8" y="1080.8" font-size="9.2" font-family="'DejaVu Sans', 'Liberation Sans', sans-serif" fill="#111" textLength="9.6" lengthAdjust="spacingAndGlyphs">8B</text></svg></body></html>
